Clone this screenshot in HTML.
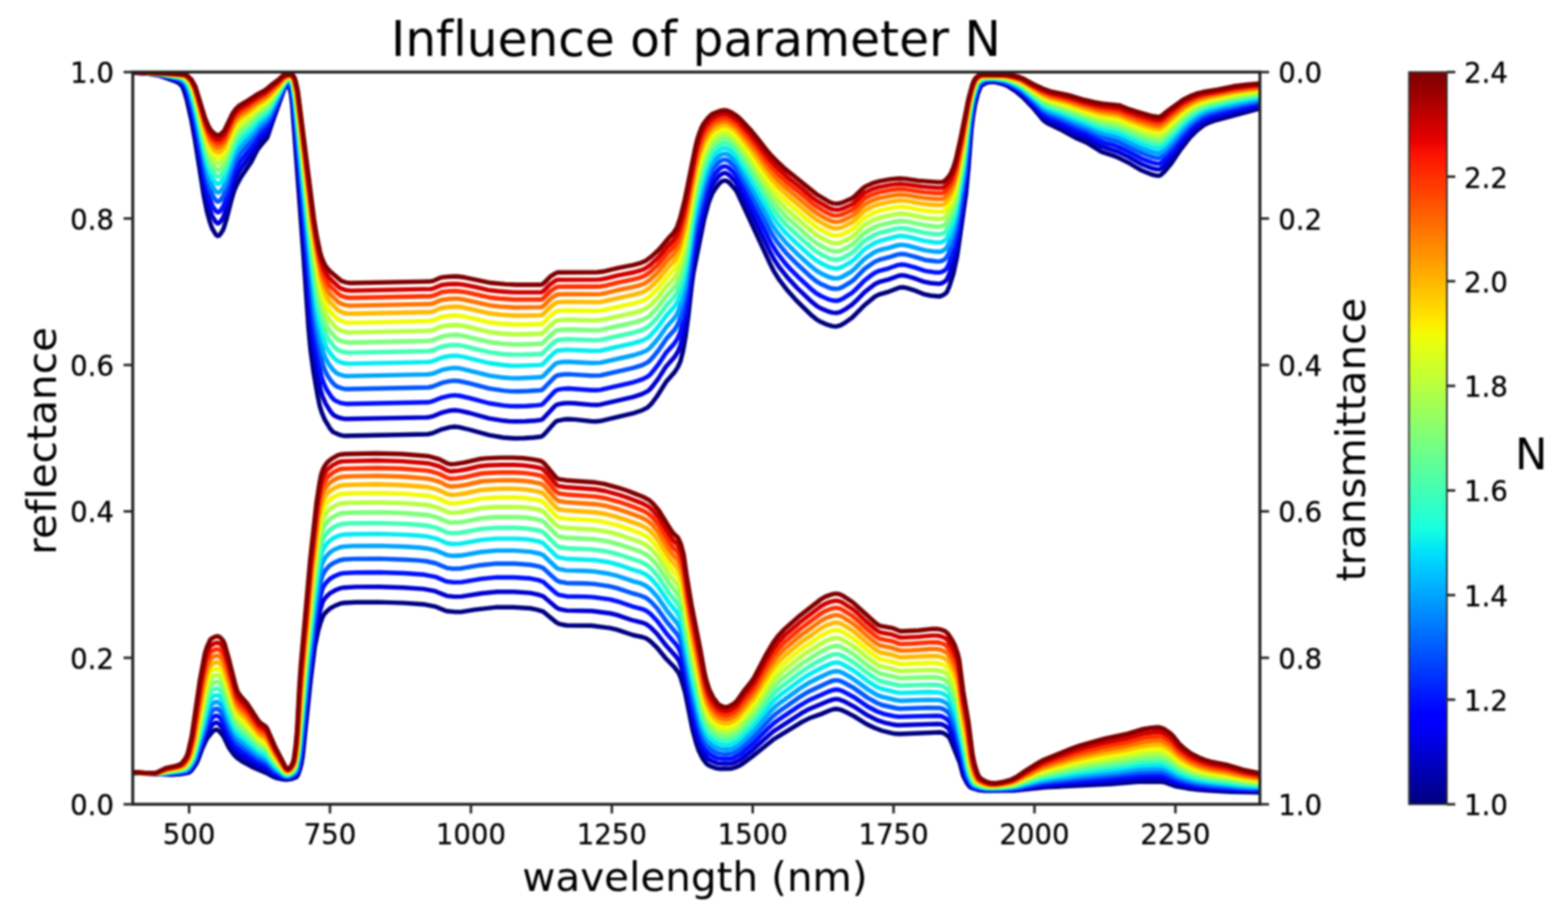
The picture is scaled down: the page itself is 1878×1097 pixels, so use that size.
<!DOCTYPE html>
<html><head><meta charset="utf-8"><title>Influence of parameter N</title>
<style>html,body{margin:0;padding:0;background:#fff;overflow:hidden;}svg{display:block;filter:blur(0.9px);}text{font-variant-ligatures:none;font-feature-settings:"liga" 0,"kern" 1;}</style>
</head><body>
<svg width="1878" height="1097" viewBox="0 0 1878 1097">
<defs>
<clipPath id="ax"><rect x="159.0" y="86.3" width="1350.0" height="876.9000000000001"/></clipPath>
<linearGradient id="jet" x1="0" y1="1" x2="0" y2="0"><stop offset="0.0000" stop-color="#000080"/><stop offset="0.0156" stop-color="#000092"/><stop offset="0.0312" stop-color="#0000a4"/><stop offset="0.0469" stop-color="#0000b6"/><stop offset="0.0625" stop-color="#0000c8"/><stop offset="0.0781" stop-color="#0000da"/><stop offset="0.0938" stop-color="#0000ed"/><stop offset="0.1094" stop-color="#0000ff"/><stop offset="0.1250" stop-color="#0000ff"/><stop offset="0.1406" stop-color="#0010ff"/><stop offset="0.1562" stop-color="#0020ff"/><stop offset="0.1719" stop-color="#0030ff"/><stop offset="0.1875" stop-color="#0040ff"/><stop offset="0.2031" stop-color="#0050ff"/><stop offset="0.2188" stop-color="#0060ff"/><stop offset="0.2344" stop-color="#0070ff"/><stop offset="0.2500" stop-color="#0080ff"/><stop offset="0.2656" stop-color="#0090ff"/><stop offset="0.2812" stop-color="#00a0ff"/><stop offset="0.2969" stop-color="#00b0ff"/><stop offset="0.3125" stop-color="#00c0ff"/><stop offset="0.3281" stop-color="#00d0ff"/><stop offset="0.3438" stop-color="#00e0fb"/><stop offset="0.3594" stop-color="#09f0ee"/><stop offset="0.3750" stop-color="#16ffe1"/><stop offset="0.3906" stop-color="#23ffd4"/><stop offset="0.4062" stop-color="#30ffc7"/><stop offset="0.4219" stop-color="#3cffba"/><stop offset="0.4375" stop-color="#49ffad"/><stop offset="0.4531" stop-color="#56ffa0"/><stop offset="0.4688" stop-color="#63ff94"/><stop offset="0.4844" stop-color="#70ff87"/><stop offset="0.5000" stop-color="#7dff7a"/><stop offset="0.5156" stop-color="#8aff6d"/><stop offset="0.5312" stop-color="#97ff60"/><stop offset="0.5469" stop-color="#a4ff53"/><stop offset="0.5625" stop-color="#b1ff46"/><stop offset="0.5781" stop-color="#beff39"/><stop offset="0.5938" stop-color="#caff2c"/><stop offset="0.6094" stop-color="#d7ff1f"/><stop offset="0.6250" stop-color="#e4ff13"/><stop offset="0.6406" stop-color="#f1fc06"/><stop offset="0.6562" stop-color="#feed00"/><stop offset="0.6719" stop-color="#ffde00"/><stop offset="0.6875" stop-color="#ffd000"/><stop offset="0.7031" stop-color="#ffc100"/><stop offset="0.7188" stop-color="#ffb200"/><stop offset="0.7344" stop-color="#ffa300"/><stop offset="0.7500" stop-color="#ff9400"/><stop offset="0.7656" stop-color="#ff8600"/><stop offset="0.7812" stop-color="#ff7700"/><stop offset="0.7969" stop-color="#ff6800"/><stop offset="0.8125" stop-color="#ff5900"/><stop offset="0.8281" stop-color="#ff4a00"/><stop offset="0.8438" stop-color="#ff3b00"/><stop offset="0.8594" stop-color="#ff2d00"/><stop offset="0.8750" stop-color="#ff1e00"/><stop offset="0.8906" stop-color="#fa0f00"/><stop offset="0.9062" stop-color="#e80000"/><stop offset="0.9219" stop-color="#d60000"/><stop offset="0.9375" stop-color="#c40000"/><stop offset="0.9531" stop-color="#b20000"/><stop offset="0.9688" stop-color="#9f0000"/><stop offset="0.9844" stop-color="#8d0000"/><stop offset="1.0000" stop-color="#800000"/></linearGradient>
</defs>
<rect width="1878" height="1097" fill="#fff"/>
<g clip-path="url(#ax)" fill="none" stroke-width="5.4" stroke-linejoin="round" stroke-linecap="round">
<path d="M157.0,87.0 172.5,87.7 190.0,90.3 211.5,97.9 215.5,100.5 218.5,104.1 220.5,109.0 223.5,118.6 229.5,145.2 233.5,167.5 244.0,234.1 248.0,253.9 251.0,264.8 254.0,273.4 258.0,280.2 259.5,281.9 261.0,282.5 262.5,281.9 264.0,280.2 267.0,275.5 268.0,273.1 271.5,261.7 278.0,236.4 280.5,228.5 283.0,222.4 288.5,212.3 301.0,193.8 308.0,179.8 312.0,174.4 319.0,166.3 320.5,163.9 325.5,148.7 340.0,108.0 343.5,100.9 344.5,100.6 345.5,101.9 347.0,106.2 348.5,112.5 350.0,125.4 363.0,299.5 369.5,392.9 372.0,420.0 375.5,445.4 380.5,474.2 383.0,486.4 385.5,494.4 389.0,502.6 395.0,512.7 399.0,517.4 406.5,520.7 410.0,521.6 413.5,522.0 512.5,520.0 517.5,518.9 529.5,514.1 539.0,511.6 544.0,511.0 550.0,511.6 562.0,514.5 586.0,521.2 602.5,524.0 615.5,525.0 627.5,524.8 639.0,524.0 647.5,523.0 649.5,522.2 652.5,519.5 664.5,506.0 666.5,504.4 669.0,503.6 675.5,502.3 681.0,502.0 688.5,502.4 708.0,504.5 713.5,504.7 718.5,504.3 757.5,495.2 768.0,491.8 775.5,488.1 780.0,483.8 787.0,474.5 798.0,457.0 808.0,445.6 812.0,439.4 815.0,432.6 818.0,420.5 821.0,403.7 824.5,377.6 828.5,341.4 830.5,326.9 843.5,262.0 849.0,242.1 853.0,231.7 857.0,225.5 861.0,220.3 864.0,217.5 867.0,216.1 870.0,216.4 873.5,218.8 880.5,226.6 883.0,230.6 922.0,315.2 927.5,325.9 932.5,333.8 942.5,347.1 954.0,360.0 972.0,377.7 977.5,382.2 982.0,385.0 991.0,388.9 997.0,390.6 1002.0,391.0 1006.5,389.7 1011.5,386.9 1020.5,380.5 1035.5,365.3 1048.0,355.2 1053.0,352.6 1064.5,349.3 1077.0,344.4 1081.0,344.0 1086.0,344.9 1096.5,348.2 1106.5,352.3 1114.5,354.0 1124.5,355.0 1127.0,354.5 1129.5,353.4 1133.0,351.0 1134.0,349.8 1137.0,343.1 1142.0,327.2 1146.5,306.2 1157.0,232.0 1160.0,200.0 1163.5,154.6 1165.5,138.9 1168.0,124.2 1171.0,112.8 1174.5,103.8 1176.0,102.0 1181.5,99.2 1186.5,98.1 1192.0,98.3 1202.5,101.2 1207.5,103.4 1216.0,109.0 1225.0,116.3 1238.5,130.5 1249.0,143.3 1251.5,145.6 1254.5,147.6 1270.0,155.0 1288.0,165.0 1301.5,170.8 1319.0,181.6 1334.0,186.6 1341.5,189.8 1351.5,194.8 1363.5,202.0 1368.5,204.6 1379.5,209.0 1386.0,210.4 1388.0,210.5 1390.0,209.8 1394.0,206.3 1402.5,196.3 1414.0,179.1 1425.0,164.8 1433.0,156.8 1441.5,150.2 1448.0,146.9 1457.0,143.8 1509.0,130.0 1511.0,130.0" stroke="#000080"/>
<path d="M157.0,925.7 205.5,927.7 216.5,927.0 226.0,925.4 228.0,924.0 230.0,921.9 235.5,913.9 237.5,909.4 242.5,895.9 246.5,887.1 248.5,883.5 255.0,875.7 257.0,874.3 259.0,873.8 260.5,874.2 262.5,875.6 267.5,881.5 274.5,896.0 279.5,903.0 284.5,908.0 291.0,912.4 302.0,918.4 319.0,925.7 327.0,930.1 330.5,931.6 338.5,933.3 344.0,933.7 349.5,932.8 355.0,930.7 357.0,927.9 359.0,922.2 361.0,914.7 362.5,906.1 372.0,815.0 377.0,775.0 381.0,755.6 384.0,745.4 386.5,738.7 388.0,736.0 390.0,733.5 395.0,728.9 401.0,725.5 408.5,722.6 412.0,722.0 427.0,721.2 454.0,721.1 484.0,722.1 507.0,723.7 521.0,726.3 534.5,731.7 545.5,732.9 553.5,732.7 569.0,730.1 595.5,727.1 615.0,727.3 635.0,728.5 643.0,730.1 650.5,732.4 666.0,745.2 669.0,746.8 673.0,748.0 679.0,749.0 708.0,749.3 730.5,752.1 739.0,754.1 758.0,760.5 769.5,763.0 774.0,764.5 779.0,768.0 787.0,775.7 798.0,789.2 808.0,799.4 813.0,806.2 815.0,810.8 820.5,829.2 829.5,874.0 833.5,888.9 837.0,899.4 841.5,908.3 846.0,914.4 848.0,916.0 851.5,917.8 858.0,920.2 861.5,920.7 875.0,920.6 879.5,919.5 886.0,916.7 890.5,913.9 900.5,906.4 926.0,885.8 960.5,864.6 969.0,860.3 985.0,854.6 994.5,850.5 998.5,849.3 1002.0,849.0 1006.5,849.8 1012.0,852.2 1023.0,857.9 1037.5,867.0 1047.0,871.5 1056.0,875.0 1066.5,877.7 1072.5,878.8 1078.0,879.0 1126.0,877.0 1128.5,877.4 1131.5,878.7 1136.5,882.5 1138.5,886.2 1149.5,913.5 1153.5,928.7 1158.0,937.7 1160.5,941.3 1163.0,943.5 1172.0,946.2 1179.5,947.0 1214.5,946.9 1253.0,942.8 1330.0,939.0 1363.0,936.2 1389.5,936.0 1395.0,936.9 1409.0,941.9 1422.5,944.2 1435.5,945.9 1448.0,946.9 1473.5,948.2 1511.0,949.0" stroke="#000080"/>
<path d="M157.2,87.0 173.7,87.7 191.0,90.1 212.3,96.7 217.1,99.7 220.0,103.2 222.0,107.9 224.9,116.9 230.7,142.0 234.1,160.0 244.2,221.1 248.5,241.6 251.4,251.5 254.3,259.2 258.1,265.4 259.6,266.9 261.0,267.5 262.5,266.9 264.0,265.4 267.0,260.9 268.0,258.8 271.5,248.0 275.5,232.5 278.5,222.6 281.0,215.6 283.5,210.1 288.5,201.8 301.0,184.7 308.1,171.8 311.7,167.4 318.8,159.7 320.8,156.8 325.4,144.2 340.4,105.8 343.8,99.5 344.9,99.2 345.9,100.4 347.5,104.4 349.0,110.4 351.1,128.1 365.4,304.3 371.4,383.7 373.8,408.2 377.1,431.2 383.8,466.5 386.2,474.5 390.0,483.3 395.8,492.7 399.7,497.2 403.1,499.0 407.0,500.5 413.9,501.8 512.5,499.9 518.0,498.7 529.5,494.1 539.0,491.7 544.5,491.2 550.5,491.9 562.0,494.5 586.0,501.1 603.0,503.8 610.5,504.6 617.5,504.8 629.5,504.5 641.0,503.7 648.0,502.9 650.0,501.9 664.5,486.4 666.5,484.9 668.5,484.2 675.0,483.0 680.5,482.6 688.0,483.0 708.5,484.9 714.0,485.0 718.5,484.6 757.5,475.6 768.5,472.2 775.5,468.7 778.5,466.1 782.0,462.1 788.5,453.4 797.5,439.3 808.0,427.4 812.0,421.0 815.0,413.9 818.0,401.9 821.0,385.6 824.5,360.4 829.0,322.0 831.0,309.0 843.5,249.7 849.0,231.3 853.0,221.6 857.0,215.8 860.5,211.6 863.5,208.8 866.5,207.3 869.5,207.3 873.0,209.3 880.0,216.5 883.0,220.8 922.0,301.1 927.5,311.2 933.0,319.5 943.0,332.2 954.5,344.6 973.0,362.2 978.0,366.2 983.0,369.2 991.5,372.8 997.0,374.4 1002.0,374.8 1006.5,373.6 1011.5,370.9 1020.5,364.8 1024.5,361.1 1035.5,349.8 1048.0,340.1 1053.0,337.7 1064.5,334.6 1077.0,330.0 1081.0,329.7 1086.0,330.5 1096.5,333.7 1106.5,337.4 1114.5,339.0 1124.4,339.9 1126.9,339.5 1129.4,338.5 1132.3,336.6 1133.8,335.1 1137.3,327.5 1141.7,313.9 1146.1,294.1 1156.5,223.9 1159.4,194.0 1162.8,152.0 1164.8,137.0 1167.3,122.9 1170.2,111.8 1173.6,102.9 1175.6,100.8 1180.8,98.1 1186.5,97.0 1192.2,97.4 1202.5,99.8 1208.0,102.1 1216.0,107.0 1224.5,113.4 1238.5,127.4 1248.5,138.8 1251.5,141.4 1254.5,143.3 1270.5,150.6 1288.5,160.0 1301.5,165.3 1318.5,175.1 1339.0,181.9 1351.0,187.6 1367.5,196.8 1379.5,201.5 1386.0,202.9 1388.0,202.9 1389.5,202.5 1393.5,199.4 1402.5,189.2 1414.0,172.9 1424.5,160.1 1432.0,152.9 1441.0,146.2 1447.5,143.0 1457.0,140.0 1509.0,126.8 1510.8,126.8" stroke="#0000d1"/>
<path d="M157.2,925.6 202.4,927.2 216.2,926.3 223.2,925.1 225.7,924.3 227.7,922.7 229.7,920.4 234.7,912.8 245.1,885.1 251.4,872.1 253.1,869.5 255.3,867.0 257.5,865.7 259.2,865.4 260.6,865.8 262.6,867.2 267.6,873.2 274.6,888.4 280.1,897.0 284.1,901.5 289.0,905.4 307.0,916.0 319.6,921.8 328.6,928.0 336.1,931.0 341.2,932.4 345.1,932.5 349.9,931.3 354.7,928.7 356.2,926.4 357.7,922.3 361.1,906.9 363.5,886.5 370.7,814.1 375.0,777.5 379.8,747.0 383.2,731.8 386.5,721.0 388.2,717.9 390.2,715.3 395.2,710.5 401.1,707.1 408.1,704.3 412.1,703.7 426.5,702.9 454.0,702.8 484.0,703.8 507.5,705.4 521.0,707.9 535.0,713.6 544.5,714.6 553.0,714.4 577.5,710.5 595.5,708.7 615.5,708.8 635.0,710.1 643.5,711.8 650.5,714.0 666.0,727.3 668.5,728.8 672.0,729.9 678.5,731.1 709.0,731.7 730.5,734.5 738.5,736.4 756.5,742.5 769.0,745.6 774.0,747.5 779.0,751.1 787.0,759.2 798.0,773.3 810.0,786.6 813.6,792.1 816.1,799.4 820.8,816.8 830.0,863.4 834.5,880.9 838.0,892.1 842.6,901.6 846.6,907.4 848.6,909.2 852.0,911.2 858.8,914.1 867.0,914.8 874.9,914.6 879.4,913.3 885.5,910.4 890.0,907.4 901.5,898.1 921.0,880.4 926.5,875.8 959.0,854.7 969.0,849.2 993.5,839.1 998.0,837.6 1002.0,837.2 1006.0,837.9 1011.0,839.9 1023.0,846.3 1039.0,856.7 1051.0,862.6 1059.0,865.3 1069.5,867.7 1075.5,868.5 1122.5,867.0 1127.4,867.3 1131.9,869.2 1136.4,872.8 1139.5,879.1 1146.3,896.8 1151.0,911.7 1154.1,924.6 1156.6,931.6 1158.7,935.9 1161.2,940.0 1163.7,942.6 1167.2,944.0 1172.1,945.3 1180.4,946.3 1213.0,946.1 1222.0,945.1 1244.5,941.6 1254.0,940.7 1331.0,935.7 1363.5,932.6 1388.5,932.3 1391.5,932.4 1395.0,933.3 1406.5,937.9 1411.5,939.4 1424.0,941.9 1436.0,943.7 1449.0,945.0 1479.5,946.7 1510.9,947.7" stroke="#0000d1"/>
<path d="M157.5,87.0 173.9,87.6 191.4,89.8 213.5,95.7 217.5,98.1 220.9,101.7 222.8,105.6 225.6,113.8 231.3,136.9 235.0,156.1 244.9,212.3 249.0,230.9 252.2,241.1 255.0,247.7 258.7,252.9 261.0,254.3 262.5,253.8 264.0,252.4 268.0,246.2 271.5,235.9 278.5,211.9 281.0,205.3 283.5,200.2 288.5,192.4 301.0,176.6 308.2,164.7 319.0,153.2 321.1,150.5 340.7,103.9 344.2,98.2 345.2,98.0 346.3,99.2 347.9,102.8 349.5,108.6 351.7,125.3 373.5,380.5 375.8,401.1 378.5,418.5 383.1,442.3 385.4,452.3 388.2,460.1 391.4,466.8 397.0,475.4 400.8,479.4 408.0,482.6 414.7,483.7 512.5,481.8 518.0,480.6 529.5,476.1 539.0,473.9 544.5,473.4 550.5,474.0 562.0,476.6 586.0,483.0 603.0,485.6 611.0,486.4 618.5,486.5 631.0,486.2 643.0,485.4 648.0,484.9 650.0,483.9 664.0,469.2 666.0,467.6 668.0,466.7 674.5,465.6 680.5,465.2 708.5,467.3 714.5,467.3 719.0,466.9 758.5,457.8 769.0,454.4 775.5,451.2 778.5,448.7 782.5,444.1 788.5,436.4 798.0,422.1 807.5,411.6 811.5,405.4 814.5,398.6 817.5,387.4 821.0,369.2 824.5,344.9 829.0,308.2 831.0,295.5 834.0,280.5 843.0,240.4 848.5,222.8 852.5,213.3 855.5,208.9 860.0,203.7 863.0,201.0 866.0,199.4 869.0,199.1 872.5,200.7 877.5,205.3 882.5,211.2 896.5,237.8 924.0,292.0 930.5,302.5 940.5,315.4 947.0,322.6 955.0,330.7 970.5,345.3 977.5,351.1 983.0,354.4 992.5,358.6 998.0,360.0 1002.5,360.2 1005.5,359.5 1009.0,357.9 1020.0,351.0 1024.0,347.5 1035.5,335.8 1043.0,330.0 1048.0,326.6 1053.0,324.3 1064.5,321.3 1074.5,317.7 1079.0,316.8 1084.0,317.2 1096.0,320.4 1107.5,324.3 1121.0,326.3 1124.9,326.4 1127.8,325.7 1131.2,324.0 1133.7,321.8 1136.6,315.9 1140.5,305.3 1143.4,294.5 1146.3,280.5 1156.0,216.6 1158.9,188.6 1162.2,149.6 1166.1,124.2 1168.5,114.1 1172.4,103.1 1174.3,100.3 1178.6,97.7 1184.5,96.3 1190.9,96.3 1202.0,98.5 1208.0,100.8 1216.5,105.6 1224.5,111.2 1239.0,125.0 1248.5,135.2 1251.5,137.7 1255.0,139.8 1271.0,146.6 1289.0,155.5 1301.5,160.4 1318.0,169.3 1323.0,171.1 1334.0,174.0 1340.0,176.2 1351.5,181.6 1367.5,190.1 1379.5,194.6 1386.0,196.0 1388.0,196.1 1389.5,195.6 1393.5,192.6 1402.5,182.8 1414.0,167.3 1424.0,155.8 1431.5,148.9 1440.5,142.6 1447.0,139.5 1457.0,136.5 1509.0,123.9 1510.6,123.9" stroke="#0010ff"/>
<path d="M157.3,925.5 198.4,926.9 215.9,925.5 223.4,924.1 225.4,923.2 227.4,921.4 229.9,918.3 234.4,910.7 244.2,882.1 251.4,863.9 253.2,860.9 255.1,858.8 257.5,857.4 259.3,857.1 260.8,857.5 262.8,858.9 267.2,864.2 269.2,867.9 274.7,880.9 277.7,886.4 282.6,893.9 287.6,898.5 308.1,912.0 319.1,917.4 329.7,925.9 338.3,930.2 341.8,931.4 345.2,931.4 349.4,930.1 353.5,927.7 355.4,925.2 356.9,921.2 358.8,913.2 360.2,904.9 362.6,884.5 370.0,808.9 374.0,773.7 378.0,744.6 379.8,733.6 383.5,714.7 386.5,704.2 389.9,698.7 395.3,693.1 400.8,689.9 407.7,687.1 411.7,686.4 425.5,685.7 454.0,685.5 485.0,686.5 508.5,688.3 521.5,690.8 535.0,696.4 543.5,697.4 553.0,697.1 577.0,693.1 595.0,691.4 616.0,691.5 635.5,692.8 644.5,694.6 650.5,696.7 665.5,710.1 668.0,711.8 670.5,712.7 678.5,714.2 702.0,714.6 710.5,715.1 730.5,717.9 740.0,720.3 757.5,726.3 769.0,729.3 774.0,731.4 779.0,735.2 787.0,743.5 798.5,758.9 810.5,772.8 813.6,777.8 815.7,783.6 818.4,793.7 822.1,810.1 825.3,828.2 830.4,853.3 835.0,871.6 838.5,883.8 843.1,894.3 847.1,900.7 849.2,902.7 852.9,905.1 856.2,906.9 859.5,908.1 867.5,909.0 874.4,908.8 878.4,907.7 883.4,905.2 888.4,901.9 901.5,890.8 921.0,871.4 927.0,866.0 933.5,861.2 957.0,845.5 968.5,838.7 992.5,828.1 998.0,826.2 1002.5,825.7 1007.0,826.8 1012.0,829.1 1023.0,835.1 1039.0,846.0 1050.5,852.0 1058.0,854.8 1070.5,857.6 1076.0,858.4 1122.0,857.2 1127.8,857.8 1132.7,860.3 1136.2,863.2 1137.9,865.9 1145.0,883.7 1151.6,906.7 1155.2,922.4 1157.2,929.0 1159.3,934.0 1161.9,938.7 1164.4,941.6 1167.4,943.0 1172.6,944.6 1177.9,945.5 1183.7,945.7 1212.5,945.2 1221.0,944.1 1244.5,939.7 1255.0,938.5 1332.5,932.2 1364.0,928.9 1388.0,928.4 1391.5,928.6 1395.0,929.5 1408.0,935.1 1413.0,936.6 1424.5,939.4 1436.0,941.4 1449.0,942.9 1483.5,945.3 1510.8,946.3" stroke="#0010ff"/>
<path d="M157.7,87.0 175.7,87.7 188.1,88.9 192.8,89.7 214.7,94.8 218.8,97.4 222.2,101.0 224.0,104.7 226.8,112.4 231.8,132.2 235.5,149.8 245.5,203.6 249.0,218.8 251.7,227.1 254.8,234.6 258.3,239.7 259.7,241.0 261.0,241.5 262.5,241.0 264.0,239.7 268.0,233.9 271.5,224.1 278.5,201.5 281.0,195.3 284.0,189.7 288.5,183.3 301.0,168.7 308.3,157.8 318.8,147.5 321.4,144.3 341.0,102.0 344.5,97.0 345.5,96.9 346.6,97.9 348.3,101.2 350.0,106.8 352.2,122.7 374.7,367.4 376.9,387.2 379.9,406.1 386.5,436.5 389.2,443.6 392.7,450.5 397.7,457.7 401.5,461.6 404.7,463.4 408.5,464.8 412.2,465.7 416.0,466.0 513.0,464.0 518.0,463.0 529.5,458.4 539.0,456.4 544.5,455.9 550.5,456.5 561.5,458.9 586.5,465.4 603.5,467.9 611.5,468.6 619.5,468.7 633.0,468.3 645.5,467.5 648.5,467.1 650.5,465.9 664.0,451.9 666.0,450.3 668.0,449.5 674.0,448.5 680.0,448.1 709.0,449.9 719.0,449.6 758.5,440.6 769.0,437.3 775.0,434.4 778.5,431.6 783.0,426.6 788.5,419.8 798.0,405.9 807.5,395.4 811.0,390.1 814.0,383.4 817.0,373.0 821.0,353.2 824.5,329.7 829.0,294.6 831.5,279.6 834.5,265.2 843.0,229.3 848.0,214.3 852.5,204.2 855.5,200.2 860.0,195.3 863.0,192.9 866.0,191.4 869.0,191.2 872.5,192.7 877.5,197.1 882.5,202.6 896.5,227.7 924.0,279.4 930.5,289.4 941.0,302.3 954.5,316.1 970.5,330.9 977.5,336.6 983.0,340.0 992.5,344.3 998.0,345.8 1002.5,345.9 1005.5,345.3 1009.0,343.8 1020.0,337.1 1024.0,333.7 1035.5,322.0 1047.5,313.6 1053.0,311.2 1064.5,308.2 1074.0,305.1 1079.0,304.2 1084.0,304.5 1096.0,307.6 1107.5,311.2 1121.0,313.0 1124.8,313.1 1128.2,312.4 1131.1,310.9 1133.5,308.8 1136.4,303.3 1140.2,293.4 1143.1,283.2 1146.0,270.1 1155.5,209.5 1158.3,183.3 1161.7,147.3 1163.6,133.8 1165.9,120.7 1168.8,110.1 1171.7,102.3 1173.6,99.6 1178.0,96.7 1183.5,95.4 1190.6,95.4 1202.0,97.4 1208.5,99.6 1217.5,104.4 1224.5,109.1 1239.0,122.1 1248.5,131.6 1251.5,133.9 1255.5,136.2 1271.5,142.7 1290.0,151.2 1301.5,155.5 1318.0,163.8 1340.0,170.1 1367.0,183.3 1379.5,188.0 1386.0,189.3 1388.0,189.4 1389.5,188.9 1393.0,186.4 1402.5,176.5 1414.0,161.8 1423.0,152.0 1430.0,145.7 1440.0,139.0 1444.0,137.1 1449.0,135.3 1465.0,131.0 1503.5,122.3 1510.4,121.1" stroke="#0058ff"/>
<path d="M157.5,925.5 194.9,926.7 215.7,924.7 222.7,923.4 224.7,922.4 227.2,920.0 229.7,916.7 232.2,912.6 234.2,908.4 248.3,864.2 251.6,855.3 254.8,850.6 257.5,849.2 259.4,848.8 260.9,849.2 262.9,850.6 267.4,856.0 269.3,859.9 274.8,873.4 277.7,879.5 282.7,887.9 286.6,892.0 308.6,907.8 319.2,913.4 328.8,922.5 339.4,929.3 342.5,930.4 345.7,930.2 349.3,928.9 352.9,926.5 354.7,924.2 356.1,920.3 357.9,912.4 359.3,903.8 361.2,887.8 369.7,799.9 376.6,741.7 381.9,707.2 383.9,697.4 385.9,690.0 389.1,683.7 394.5,677.5 399.4,674.2 406.8,671.0 411.8,670.0 423.6,669.4 454.0,669.1 485.5,670.2 501.0,671.1 509.5,672.0 521.5,674.5 535.0,680.1 542.5,681.1 552.5,680.7 576.5,676.7 595.0,674.9 616.5,675.0 636.0,676.5 645.5,678.4 650.5,680.2 665.5,694.1 669.5,696.5 678.5,698.2 702.0,698.8 711.5,699.4 730.0,702.1 739.0,704.4 758.0,710.7 766.5,713.0 774.0,716.1 779.5,720.5 787.0,728.5 798.5,744.5 811.0,759.5 813.6,764.0 815.8,770.1 818.0,778.5 822.4,799.2 825.7,818.0 830.8,843.5 836.4,866.6 839.5,877.5 844.1,888.4 848.2,894.8 849.7,896.3 854.3,899.5 857.4,901.3 860.2,902.3 867.5,903.3 873.8,903.0 877.8,902.0 882.9,899.5 887.9,895.8 901.0,884.2 923.5,860.1 929.0,855.1 935.0,850.6 958.5,834.2 967.5,828.7 994.0,816.4 998.5,814.9 1002.5,814.6 1007.0,815.7 1012.5,818.3 1023.0,824.2 1039.0,835.5 1050.0,841.7 1057.0,844.5 1072.5,848.0 1078.0,848.7 1112.0,847.6 1125.3,847.9 1129.2,848.9 1133.6,851.5 1136.1,853.7 1137.8,856.6 1145.3,875.1 1152.1,901.8 1155.8,918.7 1159.4,931.0 1162.5,937.4 1165.1,940.7 1168.1,942.1 1173.2,943.8 1178.8,944.8 1185.4,945.1 1200.0,945.0 1212.0,944.3 1220.0,943.1 1244.5,937.8 1255.5,936.2 1294.0,932.2 1335.5,928.4 1364.0,925.1 1388.0,924.4 1391.5,924.6 1395.5,925.7 1408.5,931.8 1414.5,933.9 1425.5,936.9 1436.0,939.0 1449.0,940.7 1485.5,943.7 1510.6,944.9" stroke="#0058ff"/>
<path d="M157.8,87.0 172.1,87.4 189.0,88.7 212.0,93.2 215.7,94.1 217.5,95.0 221.0,97.7 223.3,100.4 225.1,104.0 227.8,111.3 232.3,128.2 235.8,144.5 245.6,194.3 249.4,210.1 252.0,217.6 255.0,224.4 258.4,229.0 259.7,230.1 261.0,230.6 262.5,230.2 264.5,228.4 267.0,225.2 268.5,222.4 278.5,192.6 281.0,186.8 284.0,181.5 288.5,175.5 301.1,161.9 307.9,152.4 319.0,142.0 321.6,139.0 341.3,100.4 344.7,96.0 345.8,95.8 346.9,96.8 348.7,99.9 350.4,105.2 352.7,120.4 376.1,360.4 378.2,378.2 380.7,393.2 385.0,412.8 387.5,422.7 390.0,429.2 393.4,435.5 398.8,442.8 402.5,446.3 405.7,448.1 409.4,449.3 413.0,450.2 416.7,450.4 513.0,448.4 518.5,447.4 529.5,442.9 539.0,441.1 544.5,440.6 549.0,440.9 555.0,442.1 586.5,449.9 604.0,452.3 612.0,452.9 620.5,453.0 647.5,451.8 649.0,451.4 651.0,450.0 663.5,437.2 666.0,435.2 668.0,434.4 674.0,433.5 680.0,433.2 709.0,434.8 719.0,434.4 758.5,425.5 768.5,422.4 774.5,419.6 778.5,416.6 783.0,411.7 788.5,405.1 798.0,391.7 807.0,381.8 810.5,376.7 813.5,370.3 816.5,360.5 820.5,341.9 824.5,316.2 829.0,282.7 832.0,265.4 835.0,251.6 842.5,221.3 848.0,205.6 852.5,196.2 855.5,192.5 860.0,188.0 863.0,185.7 866.0,184.4 869.5,184.3 873.0,186.0 880.0,192.1 883.0,195.7 897.0,219.6 924.0,268.2 930.5,277.8 941.0,290.3 954.0,303.2 971.0,318.7 977.5,323.9 983.0,327.3 992.5,331.7 998.0,333.3 1002.5,333.4 1005.5,332.8 1009.0,331.4 1019.5,325.3 1023.5,322.0 1032.5,312.8 1036.5,309.2 1047.0,302.3 1050.5,300.6 1054.5,299.2 1064.5,296.8 1074.5,293.8 1079.5,293.1 1087.0,294.1 1107.5,299.6 1119.5,301.3 1124.3,301.5 1127.7,301.0 1130.5,299.7 1133.4,297.4 1137.2,290.1 1140.5,281.5 1143.8,269.6 1146.1,258.3 1155.0,203.2 1161.1,145.2 1163.0,132.3 1165.4,119.7 1168.7,107.9 1171.5,100.7 1173.4,98.4 1178.0,95.6 1184.2,94.6 1191.5,94.8 1202.5,96.5 1209.0,98.6 1217.5,102.9 1224.0,106.8 1239.0,119.6 1248.5,128.5 1251.5,130.7 1255.5,132.9 1273.0,139.6 1290.5,147.3 1301.5,151.3 1317.5,158.8 1340.5,165.0 1367.0,177.6 1379.5,182.1 1386.0,183.4 1389.0,183.2 1392.5,181.0 1402.0,171.4 1414.0,157.0 1422.5,148.2 1429.5,142.2 1439.5,135.9 1448.5,132.2 1466.5,127.6 1497.0,121.0 1510.2,118.6" stroke="#00a4ff"/>
<path d="M157.6,925.4 193.5,926.6 216.4,923.8 221.9,922.6 224.4,921.2 226.9,918.6 229.9,914.4 233.4,907.3 245.4,867.2 248.2,856.3 251.1,848.0 253.2,844.2 254.6,842.5 257.5,841.0 259.6,840.6 261.1,841.0 263.0,842.4 267.5,847.9 269.5,852.0 274.9,866.1 277.8,872.6 282.8,881.9 286.2,885.9 309.1,903.8 319.3,909.4 328.9,919.8 340.1,928.3 343.1,929.4 345.8,929.1 349.3,927.6 352.7,925.0 354.0,923.3 355.3,919.6 357.2,911.7 358.5,903.4 368.6,799.2 376.6,728.9 381.6,694.8 383.7,683.4 385.9,675.0 389.2,668.2 394.6,661.9 399.6,658.6 406.4,655.6 411.3,654.6 422.6,653.9 454.0,653.6 486.0,654.7 501.5,655.7 510.5,656.7 522.0,659.2 535.5,664.8 542.0,665.7 552.0,665.3 576.5,661.0 594.5,659.4 616.5,659.4 636.0,660.9 646.0,663.0 650.5,664.7 665.5,679.0 667.5,680.5 669.5,681.4 678.5,683.1 702.5,683.8 711.5,684.4 728.5,687.0 739.5,689.7 758.5,696.1 766.5,698.3 774.0,701.7 779.5,706.1 787.5,715.0 799.5,732.2 811.0,746.2 813.7,750.9 815.4,755.4 817.6,763.5 830.7,831.6 840.0,869.9 844.1,880.6 846.2,884.6 848.7,888.4 850.3,890.2 855.1,893.9 858.2,895.6 860.8,896.6 867.9,897.7 873.2,897.5 877.3,896.4 882.3,893.8 887.4,890.0 901.0,877.2 923.5,851.3 929.0,846.0 935.0,841.2 958.0,824.5 968.0,818.2 980.0,812.0 993.0,805.9 998.0,804.2 1002.5,803.8 1005.5,804.3 1009.0,805.7 1020.5,812.1 1038.5,825.0 1049.5,831.7 1056.0,834.4 1073.5,838.5 1078.5,839.2 1111.0,838.1 1124.3,838.4 1129.1,839.6 1133.9,842.5 1136.0,844.4 1138.4,848.5 1145.5,866.5 1152.6,897.0 1157.4,919.6 1160.0,929.1 1163.2,936.1 1165.8,939.8 1168.3,941.1 1173.8,943.0 1179.7,944.2 1186.6,944.5 1200.0,944.3 1211.5,943.4 1219.5,942.0 1244.5,935.8 1256.5,933.8 1294.5,929.0 1340.5,924.2 1364.5,921.1 1387.5,920.2 1391.5,920.5 1395.5,921.6 1402.0,924.6 1409.5,928.7 1417.0,931.6 1426.5,934.4 1436.0,936.5 1449.0,938.4 1486.5,942.0 1510.5,943.4" stroke="#00a4ff"/>
<path d="M158.0,87.0 172.3,87.3 189.3,88.5 212.8,92.5 216.6,93.4 218.5,94.3 222.1,97.2 223.9,99.2 225.6,102.3 228.3,108.9 232.7,124.5 236.2,139.7 246.1,187.7 249.4,200.6 251.9,207.6 255.2,214.8 258.5,219.0 259.8,220.0 261.0,220.4 262.5,220.0 264.5,218.4 267.0,215.3 268.5,212.7 278.5,184.3 281.5,177.9 284.5,173.1 288.5,168.2 301.1,155.5 308.0,146.8 318.1,137.9 321.3,134.6 322.9,132.3 336.8,106.8 341.6,98.8 345.0,95.0 346.0,94.9 347.8,96.5 349.6,100.0 350.8,103.7 353.7,123.1 368.2,267.6 377.0,349.9 379.1,366.9 381.9,383.1 386.0,400.7 388.4,409.6 391.3,416.3 394.5,421.8 400.3,429.1 403.9,432.0 406.6,433.4 410.6,434.7 417.4,435.6 513.0,433.6 518.5,432.6 529.5,428.2 538.5,426.5 544.5,426.0 549.0,426.3 555.0,427.4 586.5,435.0 603.5,437.3 611.5,438.0 619.5,438.1 647.5,437.1 649.0,436.7 651.0,435.3 657.0,428.9 663.5,422.7 666.0,420.8 668.0,420.0 674.0,419.2 680.0,418.9 709.0,420.3 719.0,420.0 758.5,411.1 768.5,408.1 774.0,405.6 776.5,404.0 779.5,401.3 787.5,392.4 798.0,378.1 808.0,366.9 810.5,363.1 813.0,357.8 816.5,346.6 820.5,328.3 824.5,303.4 829.5,268.1 832.5,251.8 835.5,238.6 842.5,211.8 848.0,197.2 852.5,188.5 855.0,185.6 859.5,181.4 862.5,179.2 865.5,177.8 869.0,177.5 872.5,178.8 880.0,185.0 883.0,188.4 897.5,211.9 924.0,257.5 931.0,267.3 941.5,279.4 953.5,291.0 971.0,306.7 977.5,311.8 983.5,315.4 992.5,319.7 997.5,321.3 1002.0,321.6 1005.5,320.9 1009.0,319.6 1019.5,313.7 1023.5,310.5 1032.5,301.3 1036.5,297.8 1047.0,291.2 1054.5,288.3 1074.0,283.2 1079.0,282.5 1086.5,283.4 1107.5,288.6 1120.0,290.2 1124.7,290.4 1128.1,289.8 1130.9,288.5 1133.3,286.5 1137.1,279.7 1140.3,271.6 1143.5,260.3 1145.8,249.8 1154.6,197.2 1160.7,143.3 1164.8,118.8 1168.1,107.2 1170.8,100.1 1171.8,98.7 1173.4,97.3 1177.4,94.8 1183.8,93.8 1191.9,94.0 1202.5,95.5 1209.5,97.6 1219.0,102.1 1224.0,105.0 1230.0,109.7 1248.5,125.5 1251.5,127.6 1256.0,129.9 1273.0,136.0 1290.5,143.3 1301.5,147.2 1317.0,154.0 1322.0,155.5 1334.0,158.0 1340.5,159.9 1367.0,172.1 1380.0,176.6 1386.5,177.8 1388.5,177.7 1390.0,177.1 1393.5,174.5 1403.0,165.0 1415.0,151.3 1424.5,142.3 1431.0,137.5 1439.0,132.8 1443.5,130.8 1448.5,129.2 1469.0,124.2 1495.5,118.7 1510.1,116.2" stroke="#06ecf1"/>
<path d="M157.8,925.3 192.1,926.4 217.2,922.9 221.7,921.7 224.2,920.0 226.7,917.2 229.7,912.7 233.1,904.8 244.5,863.4 247.6,850.5 250.6,840.7 252.9,836.4 254.4,834.5 257.5,832.9 259.7,832.6 261.2,832.9 263.2,834.3 267.6,839.9 269.6,844.1 277.9,865.9 282.3,875.1 285.8,879.7 295.1,887.2 309.2,899.5 319.3,905.4 329.0,917.1 340.2,927.1 342.8,928.4 345.5,928.2 348.4,927.0 351.7,924.4 353.3,922.4 354.6,919.2 357.8,903.5 367.9,794.8 376.0,721.7 381.3,683.2 383.5,670.5 385.8,661.1 388.9,654.7 391.4,651.2 394.3,648.1 399.7,644.3 406.5,641.3 411.4,640.3 422.7,639.7 453.5,639.4 485.0,640.4 501.5,641.5 510.5,642.4 521.0,644.6 526.5,646.6 535.0,650.5 541.0,651.5 551.5,651.1 576.5,646.6 594.0,645.1 616.5,645.1 629.0,645.8 636.5,646.7 647.0,648.9 650.5,650.4 665.5,665.1 667.5,666.7 669.5,667.6 678.5,669.2 711.5,670.7 727.0,673.0 734.5,674.6 743.0,677.1 759.0,682.6 766.5,684.8 774.0,688.3 779.5,692.7 787.5,701.8 800.5,720.8 811.0,733.8 813.7,738.5 815.5,743.1 817.8,751.6 830.6,820.1 838.4,854.7 840.9,864.4 845.1,875.2 849.2,882.4 850.8,884.2 855.5,888.1 858.5,890.0 861.5,891.1 867.9,892.2 872.7,892.0 877.2,890.7 882.3,888.1 886.8,884.3 901.5,869.9 923.5,842.8 929.0,837.2 935.5,831.7 957.5,815.3 968.5,808.1 981.0,801.3 991.5,796.2 997.5,794.0 1002.5,793.4 1005.5,794.0 1009.0,795.3 1020.5,801.9 1025.0,804.9 1038.5,815.2 1049.5,822.2 1055.5,824.9 1074.5,829.4 1078.5,829.9 1111.5,828.8 1123.8,829.2 1129.0,830.5 1134.3,833.7 1136.5,836.2 1139.6,842.1 1143.9,852.8 1146.4,860.3 1158.5,919.1 1160.7,927.2 1163.3,933.8 1166.0,938.3 1167.6,939.7 1174.3,942.3 1180.2,943.5 1187.4,943.9 1200.0,943.5 1211.0,942.6 1218.5,941.1 1245.0,933.6 1257.0,931.3 1293.5,925.9 1342.0,920.2 1365.0,916.8 1387.5,915.8 1391.5,916.1 1396.0,917.6 1402.5,920.8 1411.0,925.8 1418.0,928.7 1426.5,931.5 1436.0,933.9 1449.0,936.1 1487.0,940.2 1510.4,941.9" stroke="#06ecf1"/>
<path d="M158.2,87.0 172.9,87.3 189.5,88.4 214.1,92.1 218.7,93.3 221.3,95.2 224.4,98.2 226.1,100.8 228.7,106.9 232.1,118.1 236.4,135.5 246.1,180.4 249.7,193.7 251.8,199.2 255.4,206.6 258.6,210.4 261.0,211.7 262.5,211.3 264.5,209.8 267.0,206.8 268.5,204.4 278.5,177.2 281.5,171.1 284.5,166.5 288.0,162.4 301.1,150.0 308.1,141.9 317.7,133.9 322.0,129.6 337.0,104.6 342.3,96.9 344.2,94.8 345.7,94.0 346.9,94.3 348.1,95.6 349.9,98.7 351.1,102.4 354.1,121.0 369.9,272.7 379.0,351.0 380.6,362.0 382.6,372.4 388.9,396.8 391.2,402.5 394.8,408.5 400.8,415.9 404.3,418.9 407.0,420.2 410.5,421.4 417.6,422.4 513.0,420.5 518.5,419.5 529.5,415.1 538.5,413.5 544.5,413.1 549.0,413.4 555.0,414.4 586.5,421.9 603.0,424.1 619.0,424.9 647.5,424.0 650.5,422.6 657.0,415.8 663.0,410.3 665.5,408.3 668.0,407.2 680.0,406.3 709.0,407.4 719.0,407.1 758.5,398.3 768.0,395.5 773.5,393.1 779.0,389.1 787.5,380.0 798.0,365.9 807.5,355.5 810.5,351.0 812.5,346.7 816.0,336.1 820.5,316.1 824.5,291.9 829.5,257.9 832.5,241.9 835.5,228.8 842.0,204.9 844.0,199.1 847.5,190.8 852.5,181.7 855.0,178.9 859.5,175.0 862.5,173.0 865.5,171.7 869.0,171.4 872.5,172.7 880.0,178.6 883.0,181.8 897.5,204.1 924.0,247.9 931.0,257.4 941.5,269.1 949.5,276.8 969.5,294.6 977.5,301.0 983.5,304.6 992.5,309.1 997.5,310.7 1002.0,311.0 1005.5,310.4 1009.0,309.1 1019.5,303.3 1023.5,300.2 1032.5,291.0 1036.5,287.6 1046.5,281.6 1054.0,278.7 1073.5,273.9 1079.0,273.1 1086.5,274.0 1107.5,278.9 1120.0,280.4 1124.7,280.5 1128.5,279.9 1130.8,278.8 1133.2,276.9 1136.4,271.3 1139.7,264.2 1142.9,253.8 1145.6,242.2 1153.8,194.9 1160.2,141.6 1162.5,127.2 1164.8,116.0 1168.0,105.2 1170.3,99.5 1172.8,96.7 1177.0,94.1 1183.5,93.2 1192.3,93.4 1203.0,94.7 1210.0,96.8 1220.0,101.2 1224.0,103.5 1248.5,122.8 1252.0,125.1 1256.5,127.3 1276.0,134.0 1290.5,139.8 1302.5,144.0 1316.5,149.7 1321.5,151.2 1334.0,153.6 1340.5,155.4 1366.5,166.9 1379.5,171.4 1386.5,172.7 1389.5,172.3 1393.0,169.9 1403.0,160.3 1414.5,147.7 1423.5,139.6 1429.5,135.1 1438.0,130.3 1447.5,126.7 1470.5,121.2 1494.5,116.5 1509.9,114.0" stroke="#40ffb7"/>
<path d="M157.9,925.2 191.6,926.3 217.5,922.0 221.5,920.8 224.0,918.8 229.0,911.9 231.0,907.7 232.8,902.2 235.7,892.2 243.6,859.7 246.9,844.8 250.2,833.6 252.6,828.7 254.2,826.6 257.5,824.9 259.9,824.6 261.3,824.9 263.3,826.3 266.2,829.7 267.7,832.0 279.9,863.8 282.9,870.1 285.8,874.2 295.6,882.4 309.2,895.3 311.7,897.1 317.4,900.1 319.4,901.6 329.1,914.5 340.9,926.3 342.9,927.4 345.2,927.4 348.0,926.2 350.8,923.9 353.1,920.9 354.4,917.3 357.5,900.6 367.0,794.4 375.4,715.1 381.0,672.6 383.4,658.6 385.8,648.4 389.1,641.5 393.9,635.5 399.3,631.5 406.1,628.3 411.0,627.3 421.2,626.8 453.5,626.4 485.0,627.4 501.5,628.5 511.0,629.5 521.5,631.8 527.0,633.8 535.0,637.6 540.5,638.6 551.0,638.2 576.5,633.5 593.5,632.1 616.5,632.0 628.5,632.7 636.5,633.6 646.0,635.5 650.0,637.0 653.0,639.5 665.5,652.4 667.5,654.0 669.5,655.0 678.5,656.5 711.5,658.1 726.5,660.4 734.5,662.2 744.0,665.0 766.5,672.5 774.0,676.1 780.0,681.0 788.0,690.3 801.5,710.5 811.5,722.8 814.4,728.4 817.9,740.5 829.9,806.4 838.8,847.3 841.4,857.7 845.6,869.1 849.7,876.6 851.7,878.9 856.3,882.9 859.1,884.7 861.6,885.7 867.9,886.9 872.1,886.8 876.6,885.5 881.7,882.8 886.3,878.9 901.5,863.3 923.5,834.6 929.0,828.6 935.5,822.9 957.0,806.4 969.0,798.4 981.0,791.4 989.5,787.1 997.0,784.1 1002.5,783.4 1005.5,784.0 1009.0,785.4 1020.5,792.1 1025.0,795.2 1038.5,805.8 1049.5,813.1 1055.5,815.9 1075.0,820.5 1079.0,821.1 1112.0,819.9 1123.3,820.3 1129.0,821.6 1134.6,825.2 1137.0,828.3 1140.3,834.7 1144.1,844.2 1146.7,852.2 1159.1,916.4 1161.8,926.9 1164.5,933.6 1167.2,937.9 1170.1,939.6 1175.3,941.6 1181.0,942.9 1188.5,943.2 1200.0,942.8 1211.0,941.6 1218.0,940.0 1240.0,932.9 1248.5,930.5 1286.5,923.7 1305.5,920.8 1346.5,915.5 1366.0,912.3 1387.0,911.2 1391.0,911.5 1395.0,912.7 1402.0,916.2 1410.5,921.7 1415.0,924.0 1425.5,928.2 1436.0,931.1 1451.5,933.9 1470.0,935.9 1490.0,938.6 1510.2,940.2" stroke="#40ffb7"/>
<path d="M158.3,87.0 173.0,87.3 189.7,88.2 214.7,91.6 219.4,92.8 224.8,97.2 226.4,99.6 228.1,103.1 231.9,113.8 236.6,131.7 246.1,173.8 250.0,187.5 252.0,192.4 255.5,199.1 258.7,202.7 261.0,203.8 262.5,203.5 264.5,202.0 267.0,199.2 268.5,196.8 278.5,170.7 281.5,164.9 285.0,159.9 288.0,156.7 301.1,145.0 308.1,137.4 316.8,130.8 321.7,126.2 332.0,111.1 337.3,102.5 342.5,95.7 344.4,93.9 345.9,93.2 347.1,93.5 348.3,94.7 350.2,97.6 351.4,101.2 354.5,119.1 370.9,271.9 380.1,345.1 383.2,362.6 389.6,386.1 391.9,391.2 395.4,396.7 401.7,404.1 405.6,407.1 411.7,409.4 418.2,410.2 513.0,408.2 518.5,407.3 529.5,402.9 539.0,401.4 545.0,401.0 549.5,401.3 555.5,402.4 586.5,409.6 602.0,411.6 618.0,412.6 647.5,411.8 649.0,411.4 651.0,410.0 657.5,403.2 664.0,397.4 666.0,396.1 668.0,395.3 680.0,394.5 709.5,395.5 719.0,395.2 758.5,386.4 768.0,383.6 773.0,381.5 776.0,379.7 779.0,377.2 787.5,368.4 798.5,354.0 807.5,344.2 810.0,340.5 812.0,336.5 815.5,326.3 820.0,307.2 831.5,237.6 835.0,221.6 841.5,198.4 843.5,192.6 846.5,185.8 849.5,179.8 852.0,175.9 854.5,173.0 859.0,169.4 862.5,167.2 865.5,166.0 869.0,165.7 872.5,167.0 880.0,172.6 883.0,175.6 897.5,196.9 918.5,230.7 924.0,239.0 931.5,248.7 942.0,260.0 970.0,285.0 977.5,291.0 983.5,294.6 992.5,299.2 997.5,300.8 1002.0,301.2 1005.5,300.6 1009.0,299.3 1019.5,293.7 1023.5,290.7 1032.5,281.5 1036.5,278.2 1046.5,272.4 1054.0,269.6 1073.0,265.2 1079.0,264.4 1086.0,265.1 1107.5,269.8 1120.5,271.2 1124.7,271.4 1128.4,270.9 1130.7,269.8 1133.0,267.9 1136.3,262.7 1139.5,255.9 1142.7,246.1 1145.4,235.1 1153.5,189.9 1159.8,140.0 1162.1,126.1 1164.3,115.3 1167.5,104.6 1169.8,99.0 1172.3,96.1 1176.5,93.4 1183.8,92.5 1193.4,92.8 1203.0,93.9 1210.5,95.9 1220.0,99.8 1224.0,102.0 1248.5,120.3 1252.0,122.5 1256.5,124.6 1277.0,131.3 1317.0,146.0 1322.5,147.5 1335.0,149.7 1341.0,151.3 1366.5,162.3 1380.0,166.8 1386.5,168.0 1389.5,167.6 1393.0,165.2 1403.0,155.8 1414.5,143.8 1422.5,136.9 1429.0,132.3 1437.5,127.7 1447.0,124.3 1472.5,118.4 1494.5,114.3 1509.8,112.0" stroke="#7dff7a"/>
<path d="M158.0,925.2 175.8,926.0 190.7,926.2 202.5,923.6 217.8,921.1 220.8,920.0 223.8,917.5 226.3,914.3 228.8,910.1 232.6,899.4 235.8,886.8 246.2,839.0 249.7,826.4 252.3,821.0 254.0,818.8 257.4,817.0 260.0,816.6 261.5,816.9 263.4,818.3 266.4,821.7 267.8,824.1 269.8,828.7 276.6,848.6 280.5,858.7 282.9,864.3 285.4,868.1 288.3,871.0 295.6,877.2 309.2,891.2 311.8,893.1 317.4,896.1 319.5,897.8 328.7,911.3 341.0,925.2 343.1,926.4 345.3,926.4 347.6,925.4 350.3,923.1 352.6,920.2 353.7,917.2 355.5,909.2 357.2,897.8 366.0,794.0 370.6,751.8 374.8,708.6 380.7,662.0 383.2,646.8 385.8,635.8 389.2,628.6 394.1,622.5 399.4,618.6 406.2,615.5 411.1,614.5 421.3,614.0 453.0,613.5 484.0,614.5 511.0,616.7 522.0,619.2 527.0,621.0 535.0,624.8 540.0,625.9 550.5,625.4 558.0,624.3 576.5,620.6 593.0,619.2 616.5,619.1 628.5,619.8 637.0,620.8 647.0,622.9 650.0,624.1 653.0,626.7 665.5,639.9 669.0,642.4 678.0,644.0 712.0,645.8 726.0,647.9 741.0,651.8 766.5,660.3 774.5,664.3 780.5,669.5 788.0,678.3 802.0,699.6 811.5,711.3 814.4,717.0 818.0,729.5 829.2,792.5 833.4,813.3 841.8,851.0 846.0,863.0 850.2,870.8 852.2,873.3 856.6,877.3 859.4,879.3 862.2,880.4 867.9,881.6 872.0,881.5 876.6,880.1 881.7,877.2 885.8,873.6 902.0,856.2 923.5,826.4 929.0,820.2 935.5,814.1 959.5,795.3 978.0,783.4 986.5,778.6 993.5,775.5 998.5,773.9 1002.5,773.5 1005.5,774.1 1009.0,775.6 1021.0,782.6 1038.5,796.5 1049.0,803.8 1055.0,806.8 1079.0,812.3 1112.5,811.0 1122.8,811.3 1126.1,811.9 1128.9,812.8 1132.6,814.8 1135.0,816.7 1137.6,820.6 1141.6,828.9 1145.0,837.5 1147.0,844.2 1150.9,867.5 1155.3,888.4 1160.2,916.6 1161.9,923.4 1164.6,931.1 1167.4,936.3 1169.0,938.0 1175.9,940.9 1181.9,942.2 1189.2,942.6 1200.0,942.1 1210.5,940.8 1217.5,939.0 1240.0,930.9 1248.5,928.2 1287.5,920.2 1310.5,916.4 1348.5,911.1 1366.0,907.9 1387.0,906.6 1391.0,906.9 1395.5,908.4 1402.5,912.1 1411.0,918.3 1416.0,921.0 1426.0,925.3 1436.0,928.4 1451.0,931.4 1470.0,933.6 1490.5,936.8 1510.1,938.6" stroke="#7dff7a"/>
<path d="M158.4,87.0 173.7,87.3 190.0,88.1 216.0,91.2 220.2,92.2 225.2,96.3 226.8,98.5 228.5,101.6 230.9,107.5 232.6,112.8 236.7,128.2 244.6,161.8 250.0,180.4 252.3,185.9 255.7,191.9 258.7,195.1 261.0,196.2 262.5,195.8 264.5,194.4 268.5,189.5 278.5,164.4 281.5,158.8 285.0,154.0 288.0,151.0 301.1,140.1 308.2,133.0 316.4,127.2 321.3,122.8 332.2,108.3 337.5,100.4 342.3,95.0 344.6,93.0 346.1,92.4 347.3,92.8 349.2,94.5 351.1,98.1 352.3,102.5 354.9,117.2 371.9,271.1 380.8,336.9 383.8,353.2 386.3,363.0 390.0,374.6 392.2,379.5 395.6,384.6 402.1,392.0 406.0,395.0 412.0,397.3 418.4,398.1 513.5,396.1 518.5,395.3 526.5,391.8 529.5,390.9 539.0,389.5 545.0,389.2 550.0,389.5 556.0,390.5 586.5,397.6 601.5,399.5 617.5,400.4 647.5,399.8 649.0,399.4 651.0,398.1 657.5,391.2 663.5,386.1 666.0,384.4 668.0,383.6 679.5,382.8 710.0,383.7 719.5,383.3 759.0,374.6 768.0,371.9 773.0,369.9 779.0,365.6 787.5,356.9 798.5,342.8 807.0,333.6 809.5,330.1 811.5,326.4 815.5,314.8 820.0,295.9 832.0,225.9 835.5,210.6 841.0,191.9 843.5,184.9 846.0,179.6 849.0,174.0 852.0,169.4 854.5,166.8 858.5,163.8 862.0,161.7 865.0,160.5 869.0,160.1 872.5,161.3 880.0,166.7 883.0,169.6 898.0,190.4 918.5,222.3 924.0,230.2 932.0,240.1 942.5,251.1 971.0,276.0 977.5,281.1 985.5,285.8 992.5,289.4 997.5,291.1 1002.0,291.5 1005.5,290.9 1009.0,289.7 1019.5,284.3 1023.5,281.3 1032.5,272.1 1036.0,269.2 1046.0,263.6 1054.0,260.7 1072.5,256.6 1079.0,255.8 1086.0,256.5 1107.5,260.9 1120.5,262.2 1124.6,262.3 1128.3,261.9 1130.6,260.9 1132.9,259.0 1136.2,254.1 1139.3,247.8 1142.5,238.5 1145.1,228.1 1153.2,184.9 1159.9,135.5 1163.9,114.6 1167.0,104.0 1169.3,98.5 1171.8,95.5 1176.1,92.7 1177.9,92.3 1183.5,91.9 1194.5,92.3 1203.5,93.2 1211.0,95.1 1220.0,98.5 1224.0,100.5 1248.0,117.6 1252.0,119.9 1257.0,122.1 1278.0,128.6 1292.0,133.8 1316.5,142.1 1341.0,147.1 1366.0,157.6 1380.0,162.1 1386.5,163.3 1389.5,162.9 1392.5,161.0 1403.0,151.4 1414.0,140.4 1421.0,134.7 1428.5,129.5 1437.0,125.1 1446.5,121.9 1474.5,115.6 1495.0,112.0 1509.7,110.0" stroke="#b7ff40"/>
<path d="M158.2,925.1 174.2,925.9 189.8,926.1 201.9,923.1 217.1,920.4 220.1,919.3 223.1,916.8 225.6,913.5 228.1,909.3 230.0,904.4 232.3,896.5 235.5,883.0 244.7,837.5 247.4,825.6 249.2,819.4 252.0,813.4 253.8,811.0 257.4,809.1 260.2,808.6 261.6,809.0 263.6,810.4 266.5,813.7 267.9,816.2 269.9,821.0 277.2,843.2 281.1,853.8 283.5,859.5 285.4,862.5 288.3,865.6 295.6,872.0 309.8,887.5 311.8,889.1 317.5,892.2 319.5,894.0 328.8,908.7 341.1,924.2 343.2,925.5 345.0,925.6 347.2,924.7 349.8,922.3 352.0,919.5 353.5,915.6 356.5,898.5 363.2,815.7 374.3,702.5 380.4,652.1 383.1,635.8 385.8,624.0 389.3,616.5 393.2,611.5 395.2,609.6 398.5,607.2 405.8,603.6 410.2,602.7 419.8,602.1 453.0,601.6 484.0,602.6 511.5,604.8 522.5,607.4 527.5,609.3 535.0,612.9 540.0,614.1 546.0,613.9 553.5,613.0 577.5,608.4 592.5,607.2 617.0,607.1 628.5,607.8 637.5,608.9 647.5,611.0 650.0,612.1 653.0,614.8 665.5,628.3 669.0,630.8 678.0,632.3 712.0,634.2 725.5,636.3 735.0,638.6 746.5,642.2 766.5,649.0 774.5,653.1 780.5,658.2 788.0,667.0 803.0,690.1 811.5,700.4 814.5,706.1 818.2,719.0 828.9,781.5 842.2,844.5 846.5,857.0 850.7,865.2 852.7,867.8 857.3,872.3 860.0,874.2 862.8,875.2 867.8,876.5 873.0,876.0 879.1,873.4 883.2,870.5 903.0,848.5 919.5,824.0 927.5,813.5 936.0,805.2 952.0,792.1 965.0,782.4 984.5,770.1 989.0,767.7 995.5,765.1 999.5,764.1 1002.5,763.9 1005.5,764.6 1009.0,766.0 1021.0,773.2 1026.0,777.0 1036.5,785.9 1046.0,792.9 1051.0,796.3 1055.0,798.1 1068.0,800.9 1075.5,803.1 1079.0,803.7 1113.0,802.4 1122.8,802.7 1128.8,804.1 1132.5,806.1 1134.8,808.0 1137.6,811.9 1141.7,820.2 1145.2,829.1 1147.2,836.2 1151.3,861.8 1156.3,887.0 1160.8,914.2 1163.0,923.3 1165.8,931.1 1168.6,936.1 1171.0,937.8 1176.4,940.1 1182.3,941.5 1189.4,942.0 1200.0,941.3 1210.5,939.8 1217.5,937.8 1240.0,928.8 1248.5,925.8 1287.5,916.8 1313.0,912.2 1349.5,906.7 1366.5,903.3 1386.5,901.8 1391.0,902.1 1395.5,903.8 1402.5,907.6 1411.5,914.7 1416.5,917.7 1426.0,922.2 1436.0,925.5 1451.0,928.8 1470.0,931.2 1491.0,934.9 1509.9,936.9" stroke="#b7ff40"/>
<path d="M158.5,87.0 190.2,87.9 216.6,90.7 219.4,91.1 220.9,91.7 225.5,95.5 228.8,100.2 232.8,110.4 236.9,125.0 245.0,158.1 249.9,173.9 252.1,179.0 255.8,185.1 258.8,188.0 261.0,189.0 262.5,188.6 264.5,187.3 268.5,182.6 278.5,158.4 281.5,153.2 285.0,148.5 288.0,145.7 298.5,137.6 308.3,128.9 316.0,123.7 320.4,120.1 323.1,117.3 331.9,106.5 337.7,98.5 342.5,93.8 344.8,92.2 346.3,91.7 347.5,92.0 349.5,93.6 351.4,97.0 352.7,101.3 355.2,115.4 372.9,270.3 381.5,329.5 384.4,344.5 386.9,353.4 390.8,364.7 392.9,368.9 396.1,373.5 403.0,380.9 406.8,383.8 413.1,385.9 419.0,386.6 514.0,384.6 519.0,383.7 529.0,379.5 538.5,378.2 545.0,377.8 550.0,378.1 556.0,379.1 586.5,386.1 601.0,387.8 617.5,388.8 647.5,388.3 649.0,387.9 651.0,386.6 657.5,379.8 663.5,374.8 666.0,373.1 668.0,372.4 679.5,371.8 710.5,372.5 719.5,372.1 759.0,363.4 767.5,361.0 772.5,359.0 778.5,354.9 787.5,346.0 799.0,331.6 807.0,323.0 809.5,319.4 811.5,315.6 815.5,303.9 820.0,285.1 832.0,217.1 835.5,201.9 840.5,185.5 844.5,175.6 848.5,168.3 851.5,163.9 854.0,161.3 857.5,158.8 861.5,156.4 865.0,155.1 869.0,154.8 872.5,155.9 880.0,161.0 883.5,164.3 898.5,184.2 918.0,213.5 924.0,221.8 932.5,231.9 943.0,242.5 971.5,267.0 978.0,272.0 987.5,277.5 993.0,280.3 998.0,281.9 1002.0,282.2 1005.5,281.7 1009.0,280.5 1019.5,275.3 1023.5,272.3 1032.5,263.2 1036.0,260.3 1046.0,254.9 1054.0,252.2 1071.5,248.4 1078.5,247.6 1085.5,248.2 1107.5,252.3 1120.9,253.6 1128.3,253.4 1130.6,252.4 1132.8,250.6 1137.4,243.7 1139.6,239.0 1142.7,229.8 1145.4,219.5 1152.9,180.1 1159.5,134.1 1161.7,121.9 1163.9,112.3 1167.0,102.2 1169.2,97.2 1172.6,93.9 1175.7,92.1 1177.6,91.6 1184.4,91.4 1200.0,92.0 1205.5,92.7 1212.0,94.4 1220.5,97.4 1224.0,99.1 1248.0,115.2 1252.0,117.5 1257.5,119.8 1278.5,125.8 1293.5,131.2 1316.0,138.4 1321.5,139.7 1334.5,141.6 1341.0,143.0 1349.5,146.8 1365.5,153.1 1380.0,157.7 1386.5,158.8 1389.5,158.4 1392.5,156.5 1413.5,137.2 1419.5,132.4 1428.0,126.8 1436.0,122.8 1446.0,119.6 1475.0,113.3 1495.0,109.9 1509.5,108.1" stroke="#f1fc06"/>
<path d="M158.3,925.0 174.0,925.8 189.4,926.0 201.3,922.5 212.9,920.5 217.4,919.4 220.4,917.9 222.9,915.5 225.9,911.2 227.9,907.3 229.7,901.9 232.5,891.7 241.1,848.6 244.0,832.3 246.9,819.2 248.8,812.4 251.7,805.9 253.6,803.2 257.4,801.2 260.3,800.8 261.8,801.1 263.7,802.5 266.6,805.9 268.1,808.4 270.5,814.9 281.1,847.8 283.5,853.9 285.5,857.0 288.4,860.3 295.6,866.9 309.8,883.5 312.4,885.5 317.5,888.4 319.6,890.3 328.9,906.2 341.3,923.1 343.3,924.6 345.1,924.7 347.2,923.7 349.4,921.7 351.9,918.2 352.9,915.6 354.6,907.6 356.2,896.1 362.8,810.7 373.7,696.6 380.2,642.8 383.0,625.3 385.7,612.9 389.5,605.1 393.3,600.1 395.3,598.3 399.1,595.6 405.9,592.3 409.7,591.5 419.9,590.9 452.5,590.4 483.5,591.4 511.5,593.6 522.5,596.2 527.5,598.0 535.5,602.0 540.0,602.9 547.0,602.7 556.0,601.4 577.0,597.1 591.0,596.0 603.5,595.7 616.5,595.8 628.0,596.5 637.5,597.7 647.5,599.7 650.0,600.9 653.0,603.6 665.5,617.3 669.0,619.9 678.0,621.4 712.0,623.4 725.0,625.4 735.5,628.0 748.0,631.9 766.5,638.4 775.0,642.8 781.0,648.0 788.5,657.0 803.0,679.7 812.0,690.6 814.5,695.8 816.4,701.4 818.3,709.0 828.7,770.8 841.0,831.3 843.2,840.1 847.4,852.6 851.7,860.5 853.9,863.3 858.0,867.4 860.3,869.0 863.3,870.2 868.2,871.4 872.9,870.9 879.6,867.8 883.1,865.0 903.0,842.1 918.5,817.9 926.5,806.7 933.5,799.1 942.5,791.2 961.0,776.4 982.5,761.9 988.0,758.8 994.5,756.1 999.0,754.8 1002.5,754.6 1005.5,755.2 1009.0,756.7 1021.0,764.0 1026.0,767.9 1037.0,777.4 1046.5,784.7 1051.0,787.8 1055.0,789.7 1068.5,792.4 1075.5,794.7 1079.0,795.4 1113.5,793.8 1122.3,794.1 1128.7,795.6 1132.8,797.8 1134.7,799.3 1137.5,803.3 1141.8,811.7 1145.4,820.8 1147.5,828.3 1151.7,856.1 1156.9,882.7 1161.4,911.8 1163.7,921.6 1166.5,929.9 1169.3,935.2 1172.1,937.2 1177.4,939.5 1183.1,940.9 1190.5,941.3 1200.0,940.6 1210.5,938.8 1217.5,936.6 1240.0,926.7 1248.5,923.4 1288.0,913.2 1315.5,907.8 1350.0,902.2 1366.5,898.6 1377.5,897.4 1386.5,896.9 1391.0,897.3 1396.0,899.3 1403.0,903.4 1411.5,910.8 1417.0,914.3 1426.0,919.0 1436.0,922.6 1450.5,926.1 1470.0,928.8 1491.0,932.9 1509.8,935.2" stroke="#f1fc06"/>
<path d="M158.6,87.0 190.4,87.8 217.1,90.3 220.0,90.7 221.5,91.3 225.8,94.8 229.0,99.1 233.0,108.3 237.4,123.6 245.0,153.4 249.8,168.1 252.0,172.9 255.6,178.4 258.5,181.3 261.0,182.4 262.5,182.1 264.5,180.8 268.5,176.3 278.5,153.0 282.0,147.2 285.5,143.0 296.5,134.8 308.3,125.1 316.1,120.2 319.4,117.6 323.3,113.9 332.1,104.0 338.0,96.7 342.2,93.1 345.0,91.4 346.4,91.0 348.4,91.7 350.3,93.4 351.6,96.0 352.9,100.2 355.5,113.8 373.8,269.6 378.9,304.0 384.6,335.2 387.0,343.6 390.8,353.8 392.9,358.0 396.0,362.3 403.4,370.1 407.1,373.0 413.4,375.1 419.2,375.8 514.0,373.8 518.5,373.1 526.5,369.6 529.5,368.7 539.0,367.5 545.5,367.2 550.0,367.5 556.0,368.4 586.5,375.3 600.0,376.9 617.0,378.0 647.5,377.6 649.0,377.2 651.0,375.9 657.5,369.1 663.0,364.6 665.5,362.9 668.0,361.9 679.0,361.4 711.0,361.9 719.5,361.6 759.0,352.9 767.0,350.7 772.0,348.8 778.5,344.4 787.5,335.7 799.5,321.0 807.0,312.9 811.0,306.7 815.0,295.3 820.0,275.0 832.5,206.4 835.5,193.8 840.0,179.5 844.0,169.7 848.0,162.8 851.5,158.1 854.0,155.6 857.0,153.6 861.5,151.2 865.0,150.0 869.0,149.7 872.5,150.8 880.0,155.6 883.5,158.8 898.5,177.7 918.0,205.9 924.0,213.8 933.0,224.1 943.5,234.4 972.0,258.6 978.0,263.1 988.0,269.0 993.5,271.8 998.5,273.3 1002.5,273.5 1006.0,272.9 1009.5,271.7 1020.0,266.5 1024.0,263.4 1032.0,255.3 1036.0,252.0 1045.5,247.0 1053.5,244.3 1071.0,240.7 1078.5,239.9 1085.0,240.4 1107.0,244.3 1120.9,245.5 1128.7,245.3 1130.9,244.2 1132.8,242.7 1137.3,236.3 1139.5,231.8 1142.5,223.1 1145.1,213.4 1152.6,175.6 1160.0,127.9 1163.9,110.1 1166.6,101.7 1168.7,96.7 1172.1,93.4 1175.9,91.2 1185.4,90.8 1200.5,91.3 1206.5,92.1 1213.0,93.8 1220.5,96.2 1224.0,97.8 1248.0,113.1 1252.5,115.4 1258.0,117.6 1279.0,123.2 1295.5,128.9 1315.5,134.9 1321.5,136.2 1334.5,137.9 1340.5,139.1 1350.0,143.2 1365.0,148.8 1380.0,153.5 1386.5,154.6 1389.5,154.2 1392.5,152.3 1413.0,134.1 1419.0,129.5 1427.5,124.2 1435.5,120.4 1445.0,117.5 1476.0,110.9 1495.0,108.0 1509.4,106.3" stroke="#ffb900"/>
<path d="M158.5,925.0 174.2,925.8 189.0,925.9 200.7,922.0 212.7,919.8 217.2,918.6 219.7,917.2 222.7,914.1 225.7,909.7 227.2,906.4 229.5,899.3 232.2,888.6 243.3,827.2 246.3,812.8 248.4,805.5 251.4,798.4 253.4,795.6 257.4,793.5 260.4,793.0 262.4,793.6 264.8,795.7 267.2,798.8 268.6,801.9 281.2,841.9 283.1,847.2 285.0,850.9 287.9,854.5 295.7,861.9 309.8,879.5 312.4,881.6 317.6,884.6 319.6,886.6 329.0,903.7 341.4,922.1 342.9,923.5 344.8,923.9 346.9,923.1 349.0,921.1 351.7,917.0 352.7,914.2 354.3,905.8 356.0,893.7 362.0,810.7 373.3,691.1 379.9,634.0 382.8,615.6 385.7,602.6 388.6,596.1 392.9,590.2 395.4,587.9 399.2,585.2 405.9,582.0 409.8,581.1 419.9,580.6 452.0,580.0 482.5,581.0 511.5,583.2 523.0,586.0 527.5,587.7 535.5,591.7 540.0,592.7 547.0,592.4 556.5,591.0 577.0,586.7 590.0,585.7 603.0,585.3 616.5,585.4 628.0,586.1 638.0,587.4 647.5,589.3 650.0,590.5 653.0,593.3 665.5,607.3 669.0,609.8 678.0,611.3 712.5,613.5 725.0,615.5 736.5,618.4 749.0,622.4 766.5,628.6 771.5,630.9 775.5,633.3 781.0,638.1 788.5,647.0 803.5,670.6 812.0,680.7 814.6,685.9 816.5,691.7 818.4,699.4 828.5,760.3 841.4,824.9 843.5,834.2 847.3,845.7 849.5,850.5 852.1,855.3 854.7,858.5 858.7,862.6 860.9,864.1 864.1,865.4 868.5,866.4 872.8,865.8 879.5,862.6 883.1,859.7 903.0,835.9 918.0,811.4 926.5,799.0 933.0,791.6 941.0,784.1 960.5,768.2 983.0,752.6 988.5,749.5 995.0,746.9 999.5,745.7 1003.0,745.7 1006.0,746.4 1009.5,748.0 1021.0,755.1 1026.0,759.0 1037.0,768.8 1047.0,776.7 1051.5,779.8 1055.0,781.5 1068.5,784.1 1076.0,786.6 1079.5,787.3 1114.5,785.5 1122.3,785.7 1126.4,786.5 1129.5,787.6 1133.2,789.6 1135.3,791.6 1138.2,796.1 1142.6,804.8 1145.6,812.6 1147.8,820.5 1152.1,850.4 1157.9,881.8 1162.5,912.7 1164.3,919.9 1167.1,928.6 1170.0,934.3 1172.4,936.1 1177.9,938.7 1183.9,940.3 1190.8,940.6 1200.0,939.8 1210.5,937.9 1217.0,935.6 1240.0,924.5 1248.5,920.9 1288.0,909.6 1316.5,903.4 1350.5,897.6 1367.0,893.7 1378.0,892.4 1386.5,891.9 1391.5,892.4 1396.5,894.6 1403.0,898.7 1412.0,907.1 1417.5,910.9 1426.5,915.9 1436.0,919.6 1443.5,921.9 1450.5,923.4 1470.0,926.4 1491.5,930.9 1509.6,933.4" stroke="#ffb900"/>
<path d="M158.7,87.0 190.0,87.7 213.9,89.5 220.5,90.3 222.7,91.4 224.9,93.1 227.2,95.3 229.2,98.0 233.1,106.5 237.5,121.0 245.4,150.6 250.0,164.0 252.2,168.3 255.7,173.3 258.5,175.9 261.0,176.9 262.5,176.6 264.5,175.3 268.5,170.9 278.5,148.3 282.0,142.8 285.5,138.7 288.0,136.7 295.5,131.7 308.4,121.8 318.4,115.5 332.3,101.9 337.7,95.6 341.0,93.0 344.2,91.1 346.6,90.4 348.6,91.1 350.5,92.6 351.9,95.1 353.2,99.2 355.8,112.3 374.6,268.9 379.9,302.3 385.1,328.4 387.7,336.9 391.1,345.0 393.4,349.3 396.5,353.1 404.2,360.8 407.4,363.3 413.6,365.4 419.3,366.1 515.0,364.1 519.0,363.3 529.0,359.1 538.5,358.0 545.5,357.6 550.0,357.9 556.0,358.9 586.5,365.6 599.0,367.1 616.5,368.2 647.5,367.9 649.0,367.6 651.0,366.3 659.0,358.1 665.0,353.8 668.0,352.5 678.5,352.1 712.0,352.4 719.5,352.1 725.5,351.0 739.5,347.5 759.5,343.4 767.0,341.3 772.0,339.4 778.5,335.0 788.0,325.9 800.0,311.3 807.0,303.9 811.0,297.5 815.0,286.0 820.0,265.8 832.5,198.9 835.5,186.4 839.5,174.1 843.5,164.4 847.5,157.9 851.0,153.3 853.5,150.9 856.0,149.2 860.5,146.9 864.5,145.5 868.5,145.0 872.0,145.9 880.0,150.7 883.5,153.7 898.5,171.8 907.5,183.9 918.0,199.0 924.0,206.6 933.5,217.1 944.5,227.5 972.5,251.0 978.0,255.1 988.0,261.1 993.5,263.9 998.0,265.4 1002.5,265.7 1006.0,265.1 1009.5,264.0 1020.0,258.9 1023.5,256.3 1032.0,247.8 1036.0,244.5 1045.0,239.9 1053.5,237.1 1070.0,233.9 1078.0,233.0 1084.5,233.4 1107.0,237.1 1121.4,238.3 1128.6,238.1 1130.4,237.3 1132.7,235.6 1137.2,229.6 1139.3,225.4 1142.4,217.0 1145.0,207.9 1152.3,171.6 1160.1,124.6 1164.0,108.1 1166.6,100.1 1168.3,96.3 1171.8,92.9 1175.6,90.7 1185.2,90.3 1201.0,90.8 1207.0,91.5 1214.5,93.3 1220.5,95.2 1224.0,96.6 1247.0,110.5 1252.0,113.1 1258.0,115.4 1279.5,120.9 1296.5,126.5 1314.5,131.6 1321.5,133.0 1340.5,135.7 1350.0,139.7 1364.5,145.0 1380.0,149.7 1386.5,150.7 1389.0,150.5 1392.0,148.9 1412.5,131.4 1418.5,126.9 1427.0,121.8 1435.0,118.2 1444.5,115.4 1476.5,108.9 1495.0,106.2 1509.3,104.7" stroke="#ff7300"/>
<path d="M158.6,924.9 174.0,925.8 188.6,925.7 200.1,921.5 212.0,919.2 217.0,917.7 219.5,916.1 222.5,912.8 225.5,908.0 227.0,904.2 231.4,887.3 242.6,822.1 245.8,806.5 247.9,798.6 251.1,791.0 253.2,787.9 257.4,785.7 260.6,785.1 262.5,785.8 264.9,787.9 267.3,791.1 268.8,794.2 281.7,837.4 283.7,842.7 285.1,845.5 288.0,849.2 295.7,856.8 309.9,875.5 312.4,877.7 317.6,880.9 319.7,883.0 329.0,901.2 341.5,921.1 343.1,922.6 345.0,923.1 346.6,922.4 348.6,920.5 351.6,915.8 352.5,912.8 354.1,903.9 355.7,891.4 361.6,806.0 364.6,772.0 367.8,741.7 372.8,685.6 379.7,625.3 382.7,605.9 385.7,592.4 388.7,585.8 393.1,579.9 399.3,575.0 406.0,571.8 409.8,571.0 419.9,570.4 452.0,569.9 482.5,570.8 511.5,573.1 517.5,574.3 524.5,576.4 528.0,577.7 535.5,581.6 540.0,582.7 546.5,582.3 557.0,580.8 576.5,576.5 589.0,575.6 603.0,575.1 616.5,575.2 628.5,576.0 638.5,577.3 647.5,579.1 650.0,580.3 653.0,583.1 665.5,597.4 669.0,600.0 678.0,601.4 712.5,603.7 725.0,605.7 740.0,609.7 750.5,613.2 766.5,619.0 772.0,621.5 776.0,623.9 781.5,628.8 788.5,637.2 803.5,661.0 806.5,665.0 812.0,671.0 814.6,676.3 816.5,682.1 818.5,690.0 821.7,711.7 828.2,749.8 843.9,828.2 847.7,840.2 849.9,845.1 852.6,850.0 855.8,854.2 859.3,857.8 861.4,859.2 865.0,860.6 869.2,861.4 873.3,860.6 880.0,857.1 883.6,853.8 903.0,829.7 917.5,804.9 926.0,791.9 932.0,784.6 940.0,776.8 959.0,760.9 983.0,743.6 988.5,740.5 995.0,737.9 999.5,736.8 1003.0,736.7 1006.0,737.5 1009.5,739.0 1021.5,746.7 1026.0,750.3 1037.0,760.3 1047.0,768.5 1051.0,771.3 1054.5,773.1 1068.5,775.9 1076.0,778.5 1079.5,779.2 1091.0,778.9 1115.0,777.2 1122.2,777.4 1126.3,778.1 1129.9,779.5 1133.0,781.1 1135.2,783.1 1138.2,787.6 1142.7,796.4 1145.7,804.4 1148.0,812.8 1152.5,844.8 1158.5,877.6 1163.1,910.5 1164.9,918.1 1167.8,927.4 1170.7,933.4 1173.4,935.5 1178.9,938.1 1184.7,939.7 1191.4,940.0 1200.0,939.1 1210.5,936.9 1217.0,934.4 1240.0,922.4 1249.0,918.2 1288.5,905.8 1318.0,899.0 1350.5,893.0 1367.0,888.8 1378.0,887.4 1386.5,886.8 1391.5,887.4 1397.5,890.3 1403.0,893.9 1412.0,903.1 1417.5,907.2 1426.5,912.6 1436.0,916.6 1443.5,919.0 1450.5,920.7 1470.0,923.9 1491.5,928.9 1509.5,931.6" stroke="#ff7300"/>
<path d="M158.8,87.0 189.0,87.5 211.3,89.0 221.0,89.9 224.7,92.2 227.4,94.6 229.3,97.1 233.6,105.9 237.9,119.9 245.3,146.8 249.9,159.4 252.3,164.0 255.8,168.4 258.6,170.8 261.0,171.7 262.5,171.4 264.0,170.5 268.5,165.9 278.5,143.9 282.0,138.6 285.5,134.7 288.0,132.7 295.0,128.4 308.4,118.6 317.9,113.0 332.5,99.8 336.9,94.9 339.2,92.9 343.0,90.9 346.3,89.8 348.1,90.1 350.7,91.9 352.1,94.2 353.4,98.2 356.1,110.9 374.6,262.8 379.2,292.5 384.9,319.7 387.2,327.1 389.8,333.4 393.0,339.5 396.0,343.2 404.5,351.4 407.7,353.9 413.8,356.0 419.5,356.7 516.0,354.7 519.5,353.9 529.0,349.8 538.5,348.8 546.0,348.5 556.5,349.7 586.0,356.2 597.5,357.5 616.0,358.8 647.5,358.7 649.0,358.3 651.0,357.0 659.0,348.9 665.0,344.7 668.0,343.4 679.5,343.1 715.0,343.3 719.5,343.0 726.0,341.8 740.0,338.3 759.5,334.3 766.0,332.6 771.5,330.6 778.0,326.3 787.5,317.5 800.0,302.6 806.5,295.7 810.5,289.8 814.5,278.8 820.0,256.9 833.0,189.4 835.5,179.2 839.0,168.7 843.5,158.3 847.0,153.0 850.5,148.6 853.0,146.3 855.5,144.6 860.5,142.2 864.5,141.0 868.5,140.6 872.5,141.6 880.5,146.4 884.0,149.3 899.0,166.7 907.5,177.7 918.0,192.3 923.5,199.1 933.5,209.9 944.5,220.1 961.0,233.4 972.5,243.3 978.0,247.4 988.5,253.8 993.5,256.4 998.0,257.9 1002.5,258.2 1006.0,257.7 1009.5,256.6 1020.0,251.6 1023.5,249.0 1032.0,240.5 1036.0,237.3 1045.0,232.9 1053.5,230.2 1069.0,227.2 1078.0,226.4 1084.5,226.8 1106.0,230.1 1121.3,231.3 1128.5,231.2 1130.3,230.5 1132.6,228.7 1137.1,223.1 1138.8,220.1 1141.8,212.5 1144.8,202.7 1151.6,170.0 1160.2,121.6 1161.9,113.8 1164.5,104.8 1166.6,98.6 1168.4,95.3 1172.0,91.9 1175.3,90.2 1185.0,89.9 1202.0,90.2 1208.5,91.1 1216.0,92.9 1224.0,95.5 1237.5,103.6 1246.5,108.4 1252.5,111.3 1258.5,113.5 1280.0,118.6 1297.5,124.3 1313.5,128.5 1321.0,129.9 1340.5,132.4 1350.0,136.4 1363.5,141.1 1379.5,145.9 1386.5,147.0 1389.0,146.8 1392.0,145.2 1412.0,128.7 1418.0,124.3 1427.0,119.3 1434.5,116.1 1444.0,113.5 1477.0,107.0 1495.0,104.4 1509.2,103.1" stroke="#ff3000"/>
<path d="M158.7,924.8 173.8,925.7 186.0,925.9 188.2,925.6 199.6,920.9 211.8,918.4 216.3,917.0 219.3,915.0 222.3,911.3 224.8,907.2 226.3,903.3 230.7,886.0 241.9,817.1 245.3,800.3 247.5,791.7 250.8,783.6 253.0,780.3 257.4,778.0 260.7,777.4 262.6,778.0 265.0,780.2 267.4,783.4 268.9,786.6 273.2,800.6 281.8,831.6 283.7,837.2 285.2,840.1 288.0,844.0 295.7,851.8 309.9,871.6 312.5,873.9 317.7,877.1 319.8,879.3 328.6,897.7 341.6,920.1 343.2,921.7 344.8,922.3 346.3,921.8 348.2,920.0 351.4,914.6 352.4,911.5 355.1,892.6 356.2,879.7 359.0,832.4 361.3,801.5 367.2,739.4 372.3,680.5 379.5,617.2 382.6,596.9 385.7,582.8 388.8,576.1 392.7,570.8 398.9,565.8 405.6,562.4 409.4,561.5 418.0,561.1 451.5,560.5 481.5,561.3 511.5,563.6 518.0,565.0 526.0,567.5 535.5,572.2 540.0,573.3 546.5,572.9 557.0,571.3 576.5,567.0 587.5,566.2 602.0,565.6 616.0,565.7 628.0,566.4 639.0,567.9 647.5,569.6 650.0,570.8 653.0,573.7 665.5,588.2 669.0,590.8 678.0,592.2 712.5,594.6 724.5,596.5 740.5,600.8 751.0,604.3 768.0,610.6 772.5,612.8 776.5,615.2 782.0,620.2 789.0,628.6 804.0,652.6 806.5,655.8 812.0,661.7 815.3,668.8 818.6,681.0 821.9,703.6 828.5,742.6 844.3,822.4 848.1,834.8 850.3,839.8 853.0,844.9 856.2,849.1 859.6,852.8 861.3,854.1 865.0,855.7 869.1,856.5 873.2,855.7 879.9,852.0 883.0,849.2 890.7,838.9 899.0,829.1 903.0,823.6 917.5,797.9 926.0,784.3 932.0,776.8 939.5,769.2 958.0,753.4 983.5,734.5 988.5,731.7 995.0,729.2 999.5,728.1 1003.0,728.0 1006.0,728.8 1009.5,730.4 1021.5,738.1 1026.0,741.8 1037.0,752.0 1047.0,760.4 1051.0,763.4 1054.5,765.2 1068.5,767.8 1076.0,770.6 1079.5,771.3 1093.5,770.8 1115.5,769.1 1122.2,769.2 1126.2,770.0 1129.8,771.2 1132.9,772.8 1135.0,774.8 1138.9,780.7 1142.8,788.1 1145.9,796.3 1148.3,805.0 1152.9,839.2 1158.4,869.8 1163.1,904.6 1165.5,916.4 1168.4,926.1 1171.4,932.5 1174.1,934.7 1179.4,937.3 1185.1,939.0 1191.6,939.3 1200.0,938.3 1210.5,935.9 1217.0,933.2 1240.0,920.2 1249.0,915.7 1288.5,902.1 1301.0,898.7 1318.5,894.5 1351.0,888.3 1367.0,883.8 1378.0,882.2 1386.0,881.6 1389.0,881.7 1391.5,882.3 1398.0,885.6 1403.5,889.5 1412.0,898.9 1418.0,903.7 1426.5,909.2 1436.0,913.5 1443.0,915.9 1450.0,917.8 1470.0,921.3 1492.0,926.9 1509.3,929.8" stroke="#ff3000"/>
<path d="M158.9,87.0 186.4,87.4 207.8,88.4 220.7,89.5 222.2,89.9 224.4,91.3 227.8,94.4 229.4,96.3 233.6,104.4 238.2,119.0 245.6,144.7 250.1,156.1 252.5,160.2 255.9,164.1 258.6,166.4 261.0,167.1 262.5,166.8 264.0,166.0 268.5,161.5 278.5,140.1 282.5,134.3 286.0,130.7 294.5,125.5 308.5,115.8 317.5,110.8 332.7,98.0 338.9,91.9 343.1,90.0 346.4,89.3 348.2,89.6 350.9,91.1 352.3,93.4 353.6,97.4 356.4,109.6 375.3,262.3 379.2,287.2 384.1,310.1 386.3,317.6 388.8,323.9 392.0,329.7 395.2,333.8 405.2,343.2 408.0,345.3 414.0,347.4 419.6,348.1 516.0,346.1 519.5,345.3 529.0,341.3 538.0,340.3 546.0,340.0 555.0,340.9 569.0,343.7 585.0,347.4 596.5,348.8 615.5,350.1 647.5,350.1 649.0,349.8 651.0,348.5 659.0,340.4 665.0,336.3 668.0,335.1 715.0,334.9 719.5,334.6 726.0,333.4 740.0,329.9 759.5,326.0 766.0,324.2 771.5,322.2 778.0,318.0 788.0,308.8 800.0,294.6 806.5,287.6 810.5,281.7 814.5,270.5 820.0,248.7 833.0,182.7 835.5,172.6 838.5,163.7 843.0,153.5 846.5,148.4 850.0,144.3 855.0,140.3 860.0,138.1 864.0,136.9 868.5,136.4 872.0,137.2 880.5,141.9 884.0,144.8 899.0,161.3 907.5,171.9 918.0,186.2 923.5,192.7 934.0,203.6 945.5,214.0 960.5,225.9 973.0,236.6 978.5,240.6 993.5,249.4 998.0,250.9 1002.5,251.3 1006.0,250.8 1009.5,249.7 1020.0,244.9 1023.5,242.3 1032.0,233.9 1036.0,230.6 1045.0,226.4 1053.5,223.9 1068.0,221.1 1077.5,220.2 1084.0,220.6 1104.5,223.5 1121.8,224.9 1128.5,224.9 1130.3,224.1 1132.5,222.4 1137.0,217.2 1138.7,214.3 1141.6,207.1 1144.6,197.8 1151.0,168.5 1160.3,118.8 1164.6,103.1 1166.3,98.2 1168.0,94.9 1171.7,91.4 1175.0,89.7 1202.5,89.7 1209.5,90.6 1218.5,92.6 1222.0,93.6 1225.5,95.2 1237.5,102.2 1247.5,107.2 1258.5,111.6 1280.0,116.4 1297.5,121.9 1312.5,125.6 1321.0,127.1 1340.5,129.3 1350.0,133.3 1362.5,137.5 1379.5,142.5 1386.5,143.6 1389.0,143.4 1392.0,141.8 1398.5,136.3 1412.5,125.4 1417.5,121.9 1426.0,117.4 1434.0,114.1 1443.0,111.8 1459.5,108.9 1477.5,105.1 1495.0,102.8 1509.1,101.6" stroke="#d10000"/>
<path d="M158.9,924.8 173.6,925.7 185.7,925.8 187.7,925.5 199.0,920.4 211.2,917.8 215.7,916.4 218.7,914.3 222.2,909.9 224.2,906.5 225.7,902.4 230.0,884.7 240.1,819.0 245.9,789.1 248.2,781.7 251.6,774.2 252.8,772.8 256.3,770.8 258.6,770.0 260.9,769.7 262.8,770.3 265.2,772.5 267.5,775.7 269.0,779.1 273.7,795.1 281.9,825.8 283.8,831.7 285.2,834.8 288.1,838.8 295.7,846.9 309.9,867.7 312.5,870.1 317.7,873.5 319.8,875.8 328.7,895.2 341.7,919.2 343.3,920.9 344.9,921.5 346.4,920.9 347.9,919.4 350.4,915.4 351.9,911.5 353.3,903.3 354.8,890.6 356.0,877.1 358.7,828.1 360.6,801.9 371.9,675.5 379.3,609.4 382.5,588.3 384.6,577.5 385.7,573.7 387.8,568.9 391.8,562.7 398.0,557.5 404.7,553.8 408.5,552.7 413.8,552.4 451.0,551.5 481.0,552.4 511.5,554.7 518.0,556.1 526.5,558.7 535.5,563.4 539.5,564.5 549.5,563.6 559.0,562.0 575.0,558.2 585.0,557.3 601.0,556.7 615.5,556.7 627.5,557.4 639.0,558.9 647.5,560.6 650.0,561.9 653.0,564.8 665.5,579.5 667.5,581.3 669.0,582.2 678.0,583.5 713.0,586.0 724.5,588.0 741.0,592.5 751.5,596.0 769.0,602.6 777.0,607.0 782.5,612.0 789.0,619.8 804.0,643.9 806.5,647.1 812.0,652.7 815.4,659.9 818.7,672.3 822.0,695.7 828.1,731.8 844.7,816.8 848.5,829.5 850.7,834.7 853.5,839.8 856.9,844.6 859.8,847.9 861.8,849.3 865.4,851.0 869.1,851.7 873.2,850.8 879.9,847.0 883.0,844.0 890.7,833.3 899.0,823.2 903.0,817.6 917.0,791.8 926.0,776.9 932.0,769.1 939.5,761.3 957.5,745.7 983.5,725.9 988.5,723.1 995.0,720.6 999.5,719.5 1003.0,719.5 1006.0,720.3 1009.5,721.9 1021.5,729.7 1026.5,733.9 1037.0,743.9 1047.5,752.9 1051.5,755.9 1054.5,757.4 1068.5,759.9 1076.5,763.0 1079.5,763.6 1100.5,762.6 1116.0,761.1 1122.2,761.1 1126.2,761.9 1130.2,763.3 1132.8,764.6 1134.9,766.5 1138.9,772.4 1142.9,779.9 1146.1,788.2 1148.5,797.4 1153.3,833.6 1159.5,869.4 1164.3,906.2 1166.7,916.9 1169.7,926.6 1172.1,931.6 1174.8,933.8 1180.3,936.7 1186.3,938.4 1192.2,938.6 1200.0,937.5 1210.5,934.9 1217.0,931.9 1229.0,924.4 1249.0,913.1 1256.0,910.2 1288.5,898.3 1301.0,894.6 1319.0,890.1 1351.0,883.5 1367.5,878.6 1378.5,877.0 1386.0,876.4 1389.0,876.4 1391.5,877.1 1394.5,878.4 1398.5,880.9 1403.5,884.6 1412.0,894.7 1418.0,899.9 1426.5,905.8 1436.0,910.3 1443.0,913.0 1450.0,915.0 1470.0,918.7 1492.0,924.8 1509.2,927.9" stroke="#d10000"/>
<path d="M159.0,87.0 183.7,87.2 204.4,88.0 221.1,89.1 224.2,90.4 229.5,95.5 234.1,103.9 245.5,141.1 249.7,151.2 252.3,155.6 255.7,159.1 258.7,161.4 261.0,162.1 264.0,161.0 268.5,156.6 278.5,135.8 282.5,130.3 286.0,126.8 294.0,122.2 308.5,112.8 317.6,108.0 323.8,102.7 332.9,95.9 338.6,90.8 342.8,89.2 346.1,88.7 348.4,89.0 351.1,90.4 352.5,92.5 353.9,96.4 356.6,108.2 376.0,261.7 379.2,281.9 383.2,301.1 384.9,307.2 386.8,312.0 388.9,316.6 391.4,320.6 395.7,325.4 408.7,336.4 414.6,338.3 419.7,339.0 514.5,337.1 519.0,336.4 526.5,333.0 529.5,332.1 539.0,331.2 547.0,331.0 557.0,332.3 588.0,338.8 605.5,340.4 618.5,341.0 648.0,341.0 649.5,340.4 651.5,339.0 659.0,331.3 665.0,327.4 668.0,326.2 715.5,326.0 722.0,325.3 739.5,321.1 758.5,317.4 766.0,315.4 773.0,312.6 780.0,307.4 787.0,301.1 790.5,297.4 800.5,285.4 806.5,279.1 810.5,273.0 814.5,261.7 820.0,240.0 833.0,175.6 835.0,167.3 837.5,159.7 840.0,153.3 842.5,148.3 848.0,141.1 851.0,138.2 854.0,136.0 862.0,132.9 867.0,132.0 871.0,132.5 875.5,134.4 882.5,138.7 887.5,143.3 898.5,155.1 907.5,165.9 918.0,179.6 922.5,184.8 931.0,193.6 940.5,202.4 978.0,232.7 993.5,242.0 998.0,243.6 1002.5,244.0 1006.0,243.5 1009.5,242.4 1020.0,237.7 1023.5,235.2 1032.0,226.8 1036.0,223.6 1044.5,219.7 1053.0,217.2 1067.0,214.6 1077.0,213.7 1084.0,214.1 1099.5,216.4 1122.7,218.1 1128.4,218.1 1130.2,217.4 1132.4,215.7 1136.8,210.8 1138.9,207.3 1141.9,200.2 1144.8,191.2 1150.7,164.5 1160.0,118.1 1164.6,101.3 1166.3,96.8 1168.0,94.0 1171.3,90.9 1174.7,89.2 1203.0,89.1 1210.5,90.0 1220.0,92.0 1226.0,94.3 1239.5,101.8 1251.5,107.1 1259.0,109.7 1280.5,114.1 1298.0,119.5 1311.0,122.5 1321.0,124.1 1340.5,126.1 1350.0,130.0 1362.0,133.9 1380.0,139.0 1387.0,140.0 1389.0,139.8 1391.5,138.5 1399.0,132.4 1417.0,119.4 1425.0,115.3 1433.0,112.2 1441.5,110.0 1459.0,107.1 1477.5,103.3 1495.0,101.1 1509.0,100.0" stroke="#800000"/>
<path d="M159.0,924.7 173.4,925.6 185.3,925.7 187.3,925.4 198.4,919.9 211.0,917.1 215.5,915.5 218.5,913.1 222.0,908.4 224.0,904.5 225.4,900.1 229.7,881.1 239.4,814.5 245.4,782.6 247.8,774.8 251.4,766.8 252.6,765.3 256.2,763.2 258.6,762.3 261.0,762.0 262.9,762.7 265.3,764.9 267.7,768.1 269.1,771.5 273.8,788.0 281.9,820.1 283.8,826.3 285.3,829.5 288.1,833.6 295.7,842.0 309.9,863.8 312.6,866.3 317.8,869.8 319.9,872.2 329.3,893.9 341.9,918.2 343.4,920.0 345.0,920.7 346.2,920.3 347.6,919.0 350.2,914.4 351.7,910.3 354.2,892.1 355.8,874.6 358.4,823.9 360.2,797.7 371.5,670.6 379.1,601.8 382.4,580.0 384.5,568.8 386.7,562.3 388.9,558.1 391.4,554.5 393.8,552.2 398.1,548.9 404.8,545.2 408.6,544.2 413.8,543.8 450.5,543.0 481.0,543.8 512.0,546.2 518.0,547.6 526.5,550.2 535.5,554.9 539.5,556.0 545.5,555.6 556.5,553.9 574.0,549.8 582.5,548.9 600.0,548.1 615.0,548.1 627.5,548.8 639.5,550.4 647.5,552.0 650.0,553.3 653.0,556.2 665.5,571.2 667.5,573.0 669.0,573.9 678.0,575.2 713.0,577.8 724.0,579.6 741.0,584.3 751.5,587.8 769.5,594.7 777.5,599.0 782.5,603.6 789.0,611.3 804.0,635.4 806.5,638.6 812.0,644.0 815.4,651.3 818.8,663.9 822.2,688.0 828.3,724.8 839.0,778.8 843.4,803.5 845.6,813.3 849.5,825.7 854.4,835.7 860.4,843.3 862.0,844.5 865.8,846.3 869.5,846.9 873.1,846.0 879.9,842.0 883.0,838.9 890.7,827.8 899.0,817.5 903.0,811.7 917.0,784.9 926.0,769.6 931.5,762.2 939.0,754.1 956.0,738.9 983.5,717.5 988.5,714.6 995.0,712.2 999.5,711.1 1003.0,711.1 1006.0,711.9 1009.5,713.5 1021.5,721.4 1047.5,745.1 1051.5,748.2 1054.5,749.7 1068.5,752.1 1076.5,755.3 1079.5,756.0 1100.5,755.0 1117.0,753.1 1122.6,753.2 1127.0,754.1 1132.2,756.1 1135.6,759.3 1140.6,767.0 1143.9,773.5 1147.1,782.9 1148.8,789.8 1153.7,828.1 1160.0,865.2 1164.9,904.0 1167.3,915.3 1170.4,925.4 1172.8,930.6 1175.8,933.2 1181.2,936.1 1187.0,937.8 1193.1,937.9 1201.0,936.5 1211.5,933.5 1217.0,930.7 1229.0,922.6 1243.0,913.8 1249.5,910.2 1284.5,896.0 1294.5,892.5 1323.0,884.6 1351.0,878.7 1367.5,873.5 1378.5,871.7 1386.0,871.0 1389.5,871.2 1392.5,872.2 1396.0,874.1 1401.5,877.9 1405.0,881.4 1412.5,891.0 1417.5,895.6 1426.5,902.3 1436.0,907.2 1443.0,910.0 1450.0,912.1 1469.0,915.9 1489.0,921.9 1509.0,926.0" stroke="#800000"/>
</g>
<rect x="159.0" y="86.3" width="1350.0" height="876.9000000000001" fill="none" stroke="#202020" stroke-width="3.5"/>
<rect x="1687.5" y="86.3" width="45.5" height="876.9000000000001" fill="url(#jet)" stroke="#333" stroke-width="2"/>
<g stroke="#262626" stroke-width="3">
<line x1="148.0" y1="963.2" x2="159.0" y2="963.2"/>
<line x1="1509.0" y1="963.2" x2="1520.0" y2="963.2"/>
<line x1="148.0" y1="787.8" x2="159.0" y2="787.8"/>
<line x1="1509.0" y1="787.8" x2="1520.0" y2="787.8"/>
<line x1="148.0" y1="612.4" x2="159.0" y2="612.4"/>
<line x1="1509.0" y1="612.4" x2="1520.0" y2="612.4"/>
<line x1="148.0" y1="437.1" x2="159.0" y2="437.1"/>
<line x1="1509.0" y1="437.1" x2="1520.0" y2="437.1"/>
<line x1="148.0" y1="261.7" x2="159.0" y2="261.7"/>
<line x1="1509.0" y1="261.7" x2="1520.0" y2="261.7"/>
<line x1="148.0" y1="86.3" x2="159.0" y2="86.3"/>
<line x1="1509.0" y1="86.3" x2="1520.0" y2="86.3"/>
<line x1="226.5" y1="963.2" x2="226.5" y2="974.2"/>
<line x1="395.2" y1="963.2" x2="395.2" y2="974.2"/>
<line x1="564.0" y1="963.2" x2="564.0" y2="974.2"/>
<line x1="732.8" y1="963.2" x2="732.8" y2="974.2"/>
<line x1="901.5" y1="963.2" x2="901.5" y2="974.2"/>
<line x1="1070.2" y1="963.2" x2="1070.2" y2="974.2"/>
<line x1="1239.0" y1="963.2" x2="1239.0" y2="974.2"/>
<line x1="1407.8" y1="963.2" x2="1407.8" y2="974.2"/>
<line x1="1733.0" y1="963.2" x2="1743.0" y2="963.2"/>
<line x1="1733.0" y1="837.9" x2="1743.0" y2="837.9"/>
<line x1="1733.0" y1="712.7" x2="1743.0" y2="712.7"/>
<line x1="1733.0" y1="587.4" x2="1743.0" y2="587.4"/>
<line x1="1733.0" y1="462.1" x2="1743.0" y2="462.1"/>
<line x1="1733.0" y1="336.8" x2="1743.0" y2="336.8"/>
<line x1="1733.0" y1="211.6" x2="1743.0" y2="211.6"/>
<line x1="1733.0" y1="86.3" x2="1743.0" y2="86.3"/>
</g>
<g font-family="'DejaVu Sans', 'Liberation Sans', sans-serif" font-size="33.0" fill="#000" stroke="#000" stroke-width="0.3">
<text x="136.5" y="976.1" text-anchor="end">0.0</text>
<text x="1531" y="976.1">1.0</text>
<text x="136.5" y="800.7" text-anchor="end">0.2</text>
<text x="1531" y="800.7">0.8</text>
<text x="136.5" y="625.3" text-anchor="end">0.4</text>
<text x="1531" y="625.3">0.6</text>
<text x="136.5" y="450.0" text-anchor="end">0.6</text>
<text x="1531" y="450.0">0.4</text>
<text x="136.5" y="274.6" text-anchor="end">0.8</text>
<text x="1531" y="274.6">0.2</text>
<text x="136.5" y="99.2" text-anchor="end">1.0</text>
<text x="1531" y="99.2">0.0</text>
<text x="226.5" y="1011.2" text-anchor="middle">500</text>
<text x="395.2" y="1011.2" text-anchor="middle">750</text>
<text x="564.0" y="1011.2" text-anchor="middle">1000</text>
<text x="732.8" y="1011.2" text-anchor="middle">1250</text>
<text x="901.5" y="1011.2" text-anchor="middle">1500</text>
<text x="1070.2" y="1011.2" text-anchor="middle">1750</text>
<text x="1239.0" y="1011.2" text-anchor="middle">2000</text>
<text x="1407.8" y="1011.2" text-anchor="middle">2250</text>
<text x="1753.5" y="976.1">1.0</text>
<text x="1753.5" y="850.8">1.2</text>
<text x="1753.5" y="725.6">1.4</text>
<text x="1753.5" y="600.3">1.6</text>
<text x="1753.5" y="475.0">1.8</text>
<text x="1753.5" y="349.7">2.0</text>
<text x="1753.5" y="224.5">2.2</text>
<text x="1753.5" y="99.2">2.4</text>
</g>
<g font-family="'DejaVu Sans', 'Liberation Sans', sans-serif" fill="#000">
<text x="833.5" y="66.7" font-size="58.2" text-anchor="middle">Influence of parameter N</text>
<text x="832.4" y="1067" font-size="48.5" text-anchor="middle">wavelength (nm)</text>
<text transform="translate(66.5,528) rotate(-90)" font-size="48.7" text-anchor="middle">reflectance</text>
<text transform="translate(1634.5,526.5) rotate(-90)" font-size="48.4" text-anchor="middle">transmittance</text>
<text x="1834" y="562" font-size="52" text-anchor="middle">N</text>
</g>
</svg>
</body></html>
